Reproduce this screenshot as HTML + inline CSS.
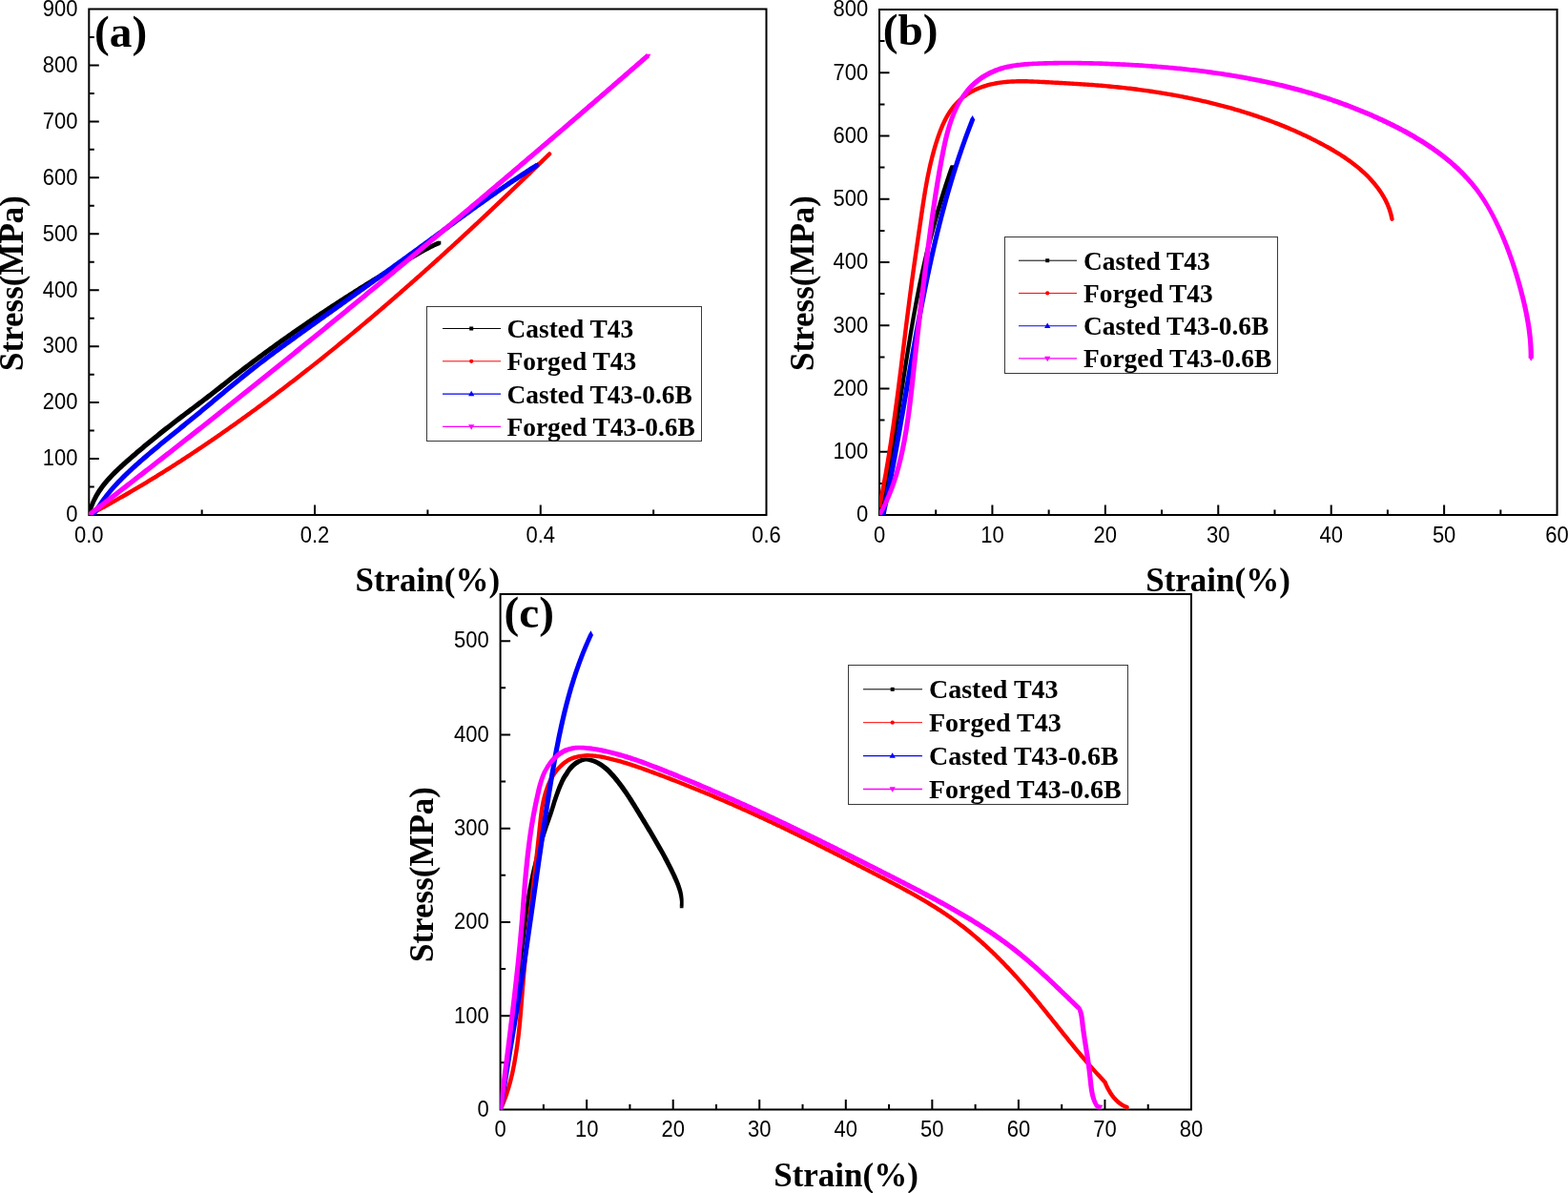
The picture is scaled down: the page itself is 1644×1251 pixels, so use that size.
<!DOCTYPE html>
<html lang="en"><head><meta charset="utf-8"><title>Stress-strain curves</title>
<style>
html,body{margin:0;padding:0;background:#fff;}
body{width:1644px;height:1251px;overflow:hidden;}
svg{display:block;}
.tk{font-family:"Liberation Sans", Arial, sans-serif;font-size:22px;fill:#000;}
.ti{font-family:"Liberation Serif", "Times New Roman", serif;font-weight:bold;font-size:35px;fill:#000;}
.pl{font-family:"Liberation Serif", "Times New Roman", serif;font-weight:bold;font-size:47.3px;fill:#000;}
.lg{font-family:"Liberation Serif", "Times New Roman", serif;font-weight:bold;fill:#000;}
.ax{stroke:#000;stroke-width:2;fill:none;stroke-linecap:butt;}
.cv{fill:none;stroke-linejoin:round;stroke-linecap:round;}
</style></head><body>
<svg width="1644" height="1251" viewBox="0 0 1644 1251">
<rect x="0" y="0" width="1644" height="1251" fill="#ffffff"/>
<g id="plot-a">
<clipPath id="clip-a"><rect x="93.3" y="9.5" width="710.2" height="530.5"/></clipPath>
<rect class="ax" x="93.3" y="9.5" width="710.2" height="530.5"/>
<path class="ax" d="M330.03 540 v-10.5 M566.77 540 v-10.5 M211.67 540 v-5.5 M448.4 540 v-5.5 M685.13 540 v-5.5 M93.3 481.06 h10.5 M93.3 422.11 h10.5 M93.3 363.17 h10.5 M93.3 304.22 h10.5 M93.3 245.28 h10.5 M93.3 186.33 h10.5 M93.3 127.39 h10.5 M93.3 68.44 h10.5 M93.3 510.53 h5.5 M93.3 451.58 h5.5 M93.3 392.64 h5.5 M93.3 333.69 h5.5 M93.3 274.75 h5.5 M93.3 215.81 h5.5 M93.3 156.86 h5.5 M93.3 97.92 h5.5 M93.3 38.97 h5.5"/>
<g clip-path="url(#clip-a)">
<path d="M93.3 540.01L94.9 533.96L96.97 528.23L99.47 522.78L102.36 517.6L105.59 512.65L109.13 507.91L112.93 503.36L116.96 498.97L121.17 494.71L125.52 490.57L129.98 486.5L134.5 482.5L139.05 478.53L143.62 474.59L148.22 470.69L152.84 466.82L157.48 462.99L162.14 459.18L166.83 455.4L171.53 451.65L176.26 447.92L181.01 444.23L185.78 440.56L190.57 436.91L195.38 433.28L200.19 429.66L204.99 426.05L209.79 422.43L214.56 418.81L219.3 415.17L224.01 411.51L228.68 407.84L233.35 404.15L238.01 400.47L242.68 396.8L247.37 393.14L252.09 389.5L256.82 385.87L261.58 382.26L266.35 378.67L271.14 375.1L275.95 371.54L280.78 367.99L285.63 364.47L290.5 360.96L295.38 357.47L300.28 353.99L305.19 350.53L310.12 347.09L315.07 343.66L320.03 340.25L325 336.86L329.99 333.48L335 330.12L340.01 326.78L345.04 323.45L350.08 320.14L355.14 316.85L360.2 313.57L365.28 310.31L370.36 307.07L375.46 303.84L380.57 300.63L385.68 297.44L390.81 294.27L395.94 291.11L401.09 287.97L406.24 284.84L411.39 281.73L416.56 278.64L421.73 275.57L426.91 272.51L432.09 269.47L437.28 266.45L442.51 263.51L447.79 260.66L453.15 257.97L458.62 255.47L460.47 254.68" fill="none" stroke="#000000" stroke-width="2.4" stroke-linejoin="round"/>
<path d="M95.47 540.51L95.96 538.5L96.51 536.56L97.12 534.65L97.77 532.78L98.47 530.95L99.21 529.14L99.99 527.37L100.82 525.62L101.69 523.91L102.6 522.22L103.55 520.55L104.53 518.91L105.55 517.3L106.61 515.7L107.7 514.13L108.82 512.58L109.98 511.04L111.16 509.53L112.38 508.03L113.62 506.55L114.89 505.08L116.19 503.63L117.51 502.2L118.85 500.78L120.21 499.37L121.6 497.97L123 496.58L124.42 495.21L125.86 493.84L127.31 492.48L128.77 491.13L130.24 489.79L131.73 488.45L133.22 487.11L134.72 485.78L136.22 484.46L137.73 483.14L139.24 481.82L140.76 480.5L142.28 479.19L143.79 477.88L145.32 476.58L146.84 475.28L148.37 473.98L149.9 472.69L151.43 471.4L152.97 470.11L154.5 468.83L156.04 467.55L157.59 466.27L159.13 465L160.68 463.73L162.23 462.46L163.78 461.2L165.34 459.94L166.89 458.68L168.45 457.43L170.02 456.18L171.58 454.93L173.15 453.69L174.72 452.44L176.29 451.21L177.86 449.97L179.44 448.74L181.02 447.51L182.6 446.28L184.18 445.06L185.77 443.83L187.36 442.62L188.95 441.4L190.54 440.19L192.14 438.97L193.74 437.76L195.34 436.56L196.94 435.35L198.54 434.14L200.14 432.94L201.74 431.73L203.35 430.53L204.95 429.32L206.55 428.12L208.15 426.91L209.75 425.71L211.35 424.5L212.94 423.29L214.54 422.08L216.13 420.87L217.72 419.66L219.3 418.44L220.89 417.23L222.46 416.01L224.04 414.78L225.61 413.56L227.17 412.33L228.73 411.1L230.29 409.88L231.85 408.65L233.41 407.42L234.96 406.19L236.51 404.96L238.07 403.74L239.62 402.51L241.17 401.28L242.73 400.06L244.28 398.84L245.84 397.62L247.4 396.4L248.97 395.19L250.53 393.98L252.1 392.76L253.67 391.55L255.24 390.34L256.82 389.14L258.39 387.93L259.97 386.73L261.55 385.53L263.14 384.33L264.72 383.13L266.31 381.94L267.9 380.74L269.49 379.55L271.09 378.36L272.69 377.17L274.28 375.99L275.88 374.8L277.49 373.62L279.09 372.44L280.7 371.26L282.31 370.08L283.92 368.91L285.53 367.73L287.15 366.56L288.76 365.39L290.38 364.22L292 363.06L293.62 361.89L295.25 360.73L296.87 359.57L298.5 358.41L300.13 357.25L301.76 356.1L303.4 354.94L305.03 353.79L306.67 352.64L308.31 351.49L309.95 350.35L311.59 349.2L313.24 348.06L314.88 346.92L316.53 345.78L318.18 344.64L319.83 343.51L321.48 342.37L323.13 341.24L324.79 340.11L326.45 338.98L328.11 337.86L329.77 336.73L331.43 335.61L333.09 334.49L334.76 333.37L336.42 332.25L338.09 331.14L339.76 330.03L341.43 328.91L343.1 327.81L344.78 326.7L346.45 325.59L348.13 324.49L349.81 323.39L351.48 322.28L353.16 321.19L354.85 320.09L356.53 318.99L358.21 317.9L359.9 316.81L361.59 315.72L363.27 314.63L364.96 313.55L366.65 312.46L368.35 311.38L370.04 310.3L371.73 309.23L373.43 308.15L375.13 307.07L376.82 306L378.52 304.93L380.22 303.86L381.92 302.8L383.62 301.73L385.33 300.67L387.03 299.61L388.74 298.55L390.44 297.49L392.15 296.43L393.86 295.38L395.56 294.33L397.27 293.28L398.98 292.23L400.7 291.18L402.41 290.14L404.12 289.09L405.84 288.05L407.55 287.01L409.27 285.98L410.98 284.94L412.7 283.91L414.42 282.88L416.14 281.85L417.86 280.82L419.58 279.79L421.3 278.77L423.02 277.75L424.74 276.73L426.47 275.71L428.19 274.69L429.92 273.68L431.64 272.66L433.37 271.65L435.09 270.64L436.81 269.64L438.54 268.64L440.26 267.66L441.99 266.68L443.72 265.71L445.46 264.75L447.2 263.81L448.94 262.88L450.7 261.97L452.46 261.07L454.22 260.2L456 259.34L457.79 258.51L459.59 257.7L461.42 256.92L459.52 252.45L457.66 253.24L455.78 254.05L453.93 254.89L452.08 255.75L450.26 256.63L448.44 257.53L446.64 258.45L444.85 259.39L443.06 260.34L441.29 261.31L439.53 262.28L437.77 263.27L436.03 264.26L434.28 265.27L432.54 266.27L430.81 267.28L429.08 268.3L427.35 269.31L425.62 270.33L423.89 271.34L422.16 272.36L420.44 273.39L418.71 274.41L416.98 275.43L415.26 276.46L413.53 277.49L411.81 278.52L410.09 279.56L408.36 280.59L406.64 281.63L404.92 282.67L403.2 283.71L401.48 284.75L399.76 285.79L398.05 286.84L396.33 287.89L394.61 288.94L392.9 289.99L391.19 291.04L389.47 292.1L387.76 293.16L386.05 294.22L384.34 295.28L382.63 296.34L380.92 297.41L379.22 298.47L377.51 299.54L375.8 300.61L374.1 301.69L372.4 302.76L370.7 303.84L369 304.91L367.3 305.99L365.6 307.08L363.9 308.16L362.2 309.25L360.51 310.33L358.82 311.42L357.12 312.51L355.43 313.61L353.74 314.7L352.05 315.8L350.37 316.9L348.68 318L347 319.1L345.31 320.21L343.63 321.31L341.95 322.42L340.27 323.53L338.59 324.64L336.92 325.76L335.24 326.87L333.57 327.99L331.9 329.11L330.23 330.23L328.56 331.35L326.89 332.48L325.22 333.6L323.56 334.73L321.9 335.86L320.24 336.99L318.58 338.13L316.92 339.27L315.26 340.4L313.61 341.54L311.95 342.68L310.3 343.83L308.65 344.97L307 346.12L305.36 347.27L303.71 348.42L302.07 349.57L300.43 350.73L298.79 351.88L297.15 353.04L295.51 354.2L293.88 355.37L292.25 356.53L290.62 357.69L288.99 358.86L287.36 360.03L285.74 361.2L284.12 362.38L282.49 363.55L280.88 364.73L279.26 365.91L277.64 367.09L276.03 368.27L274.42 369.45L272.81 370.64L271.2 371.83L269.6 373.02L268 374.21L266.4 375.4L264.8 376.6L263.2 377.8L261.61 379L260.01 380.2L258.42 381.4L256.84 382.6L255.25 383.81L253.67 385.02L252.09 386.23L250.51 387.44L248.93 388.65L247.36 389.87L245.78 391.09L244.21 392.31L242.65 393.53L241.08 394.75L239.52 395.98L237.96 397.2L236.4 398.43L234.84 399.66L233.29 400.89L231.74 402.11L230.18 403.34L228.63 404.57L227.08 405.8L225.52 407.02L223.96 408.25L222.41 409.47L220.85 410.69L219.28 411.9L217.71 413.12L216.14 414.33L214.56 415.54L212.98 416.75L211.4 417.96L209.81 419.16L208.22 420.37L206.63 421.57L205.03 422.78L203.43 423.98L201.83 425.18L200.23 426.39L198.63 427.59L197.03 428.8L195.42 430L193.82 431.21L192.22 432.42L190.61 433.63L189.01 434.84L187.41 436.06L185.81 437.28L184.21 438.5L182.61 439.72L181.02 440.95L179.42 442.18L177.83 443.41L176.25 444.64L174.66 445.88L173.08 447.12L171.5 448.36L169.92 449.61L168.34 450.86L166.77 452.11L165.2 453.37L163.63 454.63L162.06 455.89L160.5 457.16L158.94 458.43L157.38 459.7L155.82 460.97L154.27 462.25L152.72 463.54L151.17 464.82L149.62 466.11L148.08 467.4L146.54 468.7L145 470L143.46 471.3L141.93 472.61L140.4 473.92L138.87 475.24L137.34 476.56L135.82 477.88L134.3 479.2L132.78 480.53L131.26 481.87L129.75 483.21L128.24 484.56L126.73 485.91L125.23 487.28L123.74 488.65L122.26 490.04L120.8 491.43L119.34 492.84L117.9 494.27L116.47 495.71L115.07 497.16L113.68 498.64L112.31 500.13L110.97 501.64L109.65 503.17L108.36 504.72L107.09 506.3L105.86 507.9L104.65 509.52L103.48 511.17L102.34 512.85L101.24 514.55L100.18 516.28L99.16 518.04L98.19 519.83L97.26 521.65L96.37 523.51L95.53 525.39L94.74 527.31L94 529.26L93.32 531.25L92.69 533.27L92.12 535.32L91.61 537.41L91.14 539.5ZM91.45 541.86L95.15 541.86L95.15 538.16L91.45 538.16ZM458.62 256.53L462.32 256.53L462.32 252.83L458.62 252.83Z" fill="#000000" fill-rule="nonzero"/>
<path d="M93.29 539.98L95.05 539.04L96.82 538.11L98.58 537.17L100.35 536.22L102.11 535.28L103.87 534.33L105.62 533.37L107.38 532.42L109.13 531.46L110.88 530.5L112.63 529.53L114.38 528.56L116.13 527.59L117.87 526.62L119.62 525.64L121.36 524.67L123.1 523.68L124.83 522.7L126.57 521.71L128.3 520.72L130.04 519.73L131.77 518.73L133.49 517.73L135.22 516.73L136.95 515.72L138.67 514.72L140.39 513.71L142.11 512.69L143.83 511.68L145.55 510.66L147.26 509.64L148.98 508.61L150.69 507.59L152.4 506.56L154.11 505.53L155.82 504.49L157.52 503.46L159.23 502.42L160.93 501.37L162.63 500.33L164.33 499.28L166.02 498.23L167.72 497.18L169.41 496.13L171.11 495.07L172.8 494.01L174.49 492.95L176.18 491.88L177.86 490.81L179.55 489.74L181.23 488.67L182.91 487.6L184.59 486.52L186.27 485.44L187.95 484.36L189.63 483.28L191.3 482.19L192.97 481.1L194.64 480.01L196.31 478.92L197.98 477.82L199.65 476.72L201.32 475.62L202.98 474.52L204.64 473.42L206.3 472.31L207.96 471.2L209.62 470.09L211.28 468.97L212.93 467.86L214.59 466.74L216.24 465.62L217.89 464.5L219.54 463.37L221.19 462.25L222.84 461.12L224.48 459.99L226.13 458.86L227.77 457.72L229.41 456.59L231.05 455.45L232.69 454.31L234.33 453.16L235.97 452.02L237.6 450.87L239.24 449.72L240.87 448.57L242.5 447.42L244.13 446.27L245.76 445.11L247.39 443.95L249.01 442.79L250.64 441.63L252.26 440.47L253.88 439.3L255.5 438.13L257.12 436.96L258.74 435.79L260.36 434.62L261.98 433.45L263.59 432.27L265.2 431.09L266.82 429.91L268.43 428.73L270.04 427.55L271.65 426.36L273.26 425.18L274.86 423.99L276.47 422.8L278.07 421.61L279.68 420.41L281.28 419.22L282.88 418.02L284.48 416.82L286.08 415.62L287.67 414.42L289.27 413.22L290.87 412.02L292.46 410.81L294.05 409.6L295.64 408.39L297.24 407.18L298.82 405.97L300.41 404.75L302 403.54L303.59 402.32L305.17 401.1L306.76 399.88L308.34 398.66L309.92 397.44L311.5 396.21L313.08 394.98L314.66 393.76L316.24 392.53L317.81 391.3L319.39 390.06L320.96 388.83L322.53 387.59L324.1 386.36L325.68 385.12L327.24 383.88L328.81 382.64L330.38 381.39L331.95 380.15L333.51 378.9L335.08 377.66L336.64 376.41L338.2 375.16L339.76 373.91L341.32 372.65L342.88 371.4L344.44 370.15L345.99 368.89L347.55 367.63L349.1 366.37L350.66 365.11L352.21 363.85L353.76 362.58L355.31 361.32L356.86 360.05L358.41 358.78L359.96 357.51L361.5 356.24L363.05 354.97L364.59 353.7L366.14 352.42L367.68 351.15L369.22 349.87L370.76 348.59L372.3 347.31L373.84 346.03L375.37 344.75L376.91 343.47L378.44 342.18L379.98 340.9L381.51 339.61L383.04 338.32L384.57 337.03L386.1 335.74L387.63 334.45L389.16 333.16L390.69 331.86L392.21 330.57L393.74 329.27L395.26 327.97L396.79 326.68L398.31 325.38L399.83 324.07L401.35 322.77L402.87 321.47L404.39 320.16L405.91 318.86L407.42 317.55L408.94 316.24L410.45 314.93L411.97 313.62L413.48 312.31L414.99 311L416.5 309.69L418.01 308.37L419.52 307.05L421.03 305.74L422.53 304.42L424.04 303.1L425.55 301.78L427.05 300.46L428.55 299.14L430.06 297.82L431.56 296.49L433.06 295.17L434.56 293.84L436.06 292.51L437.55 291.19L439.05 289.86L440.55 288.53L442.04 287.19L443.54 285.86L445.03 284.53L446.52 283.2L448.01 281.86L449.5 280.53L450.99 279.19L452.48 277.85L453.97 276.51L455.46 275.17L456.94 273.83L458.43 272.49L459.91 271.15L461.4 269.81L462.88 268.46L464.36 267.12L465.84 265.77L467.32 264.43L468.8 263.08L470.28 261.73L471.76 260.38L473.24 259.03L474.71 257.68L476.19 256.33L477.66 254.98L479.13 253.62L480.61 252.27L482.08 250.91L483.55 249.56L485.02 248.2L486.49 246.84L487.96 245.49L489.43 244.13L490.89 242.77L492.36 241.41L493.82 240.05L495.29 238.68L496.75 237.32L498.22 235.96L499.68 234.6L501.14 233.23L502.6 231.87L504.06 230.5L505.52 229.13L506.98 227.77L508.43 226.4L509.89 225.03L511.35 223.66L512.8 222.29L514.25 220.92L515.71 219.55L517.16 218.17L518.61 216.8L520.06 215.43L521.51 214.05L522.96 212.68L524.41 211.3L525.86 209.93L527.31 208.55L528.75 207.18L530.2 205.8L531.65 204.42L533.09 203.04L534.53 201.66L535.98 200.28L537.42 198.9L538.86 197.52L540.3 196.14L541.74 194.76L543.18 193.37L544.62 191.99L546.06 190.61L547.49 189.22L548.93 187.84L550.37 186.45L551.8 185.07L553.23 183.68L554.67 182.3L556.1 180.91L557.53 179.52L558.96 178.13L560.4 176.75L561.83 175.36L563.25 173.97L564.68 172.58L566.11 171.19L567.54 169.8L568.97 168.41L570.39 167.02L571.82 165.62L573.24 164.23L574.67 162.84L576.09 161.45" fill="none" stroke="#ff0000" stroke-width="4.4" stroke-linecap="round" stroke-linejoin="round"/>
<path d="M97.97 539.98L101.08 534.76L104.37 529.71L107.84 524.81L111.48 520.05L115.26 515.42L119.17 510.91L123.21 506.52L127.36 502.22L131.61 498.01L135.95 493.88L140.35 489.82L144.82 485.82L149.34 481.86L153.89 477.94L158.48 474.06L163.09 470.2L167.72 466.36L172.38 462.55L177.05 458.74L181.72 454.95L186.4 451.16L191.09 447.38L195.77 443.59L200.44 439.79L205.1 435.98L209.74 432.16L214.37 428.32L218.99 424.47L223.61 420.62L228.22 416.77L232.83 412.92L237.44 409.08L242.07 405.25L246.7 401.44L251.35 397.64L256.01 393.87L260.7 390.12L265.41 386.4L270.15 382.72L274.91 379.06L279.7 375.43L284.5 371.83L289.32 368.25L294.16 364.69L299.01 361.14L303.87 357.61L308.74 354.09L313.62 350.58L318.51 347.07L323.39 343.57L328.28 340.07L333.16 336.58L338.05 333.08L342.94 329.58L347.83 326.09L352.72 322.59L357.61 319.1L362.49 315.6L367.38 312.11L372.27 308.61L377.15 305.11L382.04 301.61L386.92 298.11L391.8 294.61L396.68 291.1L401.56 287.6L406.44 284.09L411.31 280.57L416.18 277.05L421.05 273.53L425.92 270.01L430.78 266.48L435.64 262.94L440.49 259.41L445.35 255.86L450.19 252.31L455.04 248.76L459.89 245.21L464.73 241.65L469.58 238.1L474.43 234.55L479.28 231.01L484.14 227.47L489 223.94L493.87 220.42L498.74 216.91L503.63 213.41L508.52 209.93L513.43 206.46L518.35 203.01L523.28 199.58L528.23 196.17L533.19 192.79L538.17 189.42L543.17 186.09L548.18 182.78L553.22 179.5L558.28 176.25L563.36 173.03L563.36 173.03" fill="none" stroke="#0000ff" stroke-width="2.4" stroke-linejoin="round"/>
<path d="M99.93 541.12L100.95 539.38L101.99 537.67L103.04 535.99L104.12 534.32L105.21 532.67L106.33 531.04L107.46 529.42L108.61 527.82L109.78 526.23L110.97 524.66L112.17 523.1L113.39 521.56L114.63 520.03L115.88 518.51L117.14 517.01L118.42 515.52L119.72 514.04L121.03 512.57L122.35 511.12L123.69 509.67L125.04 508.24L126.4 506.82L127.78 505.4L129.16 504L130.56 502.6L131.97 501.22L133.38 499.84L134.81 498.47L136.25 497.11L137.69 495.75L139.15 494.4L140.61 493.06L142.08 491.72L143.55 490.39L145.04 489.07L146.53 487.75L148.02 486.43L149.52 485.12L151.03 483.81L152.54 482.51L154.05 481.2L155.57 479.91L157.09 478.61L158.61 477.32L160.14 476.03L161.67 474.75L163.21 473.47L164.74 472.19L166.28 470.91L167.83 469.63L169.37 468.36L170.92 467.09L172.47 465.82L174.02 464.55L175.57 463.28L177.12 462.02L178.68 460.75L180.24 459.49L181.79 458.23L183.35 456.96L184.91 455.7L186.47 454.44L188.03 453.18L189.6 451.92L191.16 450.65L192.72 449.39L194.28 448.13L195.84 446.87L197.4 445.6L198.96 444.33L200.52 443.07L202.08 441.8L203.63 440.53L205.19 439.26L206.74 437.98L208.29 436.71L209.84 435.43L211.39 434.15L212.94 432.87L214.48 431.59L216.02 430.31L217.57 429.03L219.11 427.74L220.65 426.46L222.19 425.18L223.73 423.89L225.26 422.61L226.8 421.32L228.34 420.04L229.87 418.76L231.41 417.47L232.95 416.19L234.48 414.91L236.02 413.63L237.56 412.35L239.1 411.07L240.64 409.8L242.18 408.52L243.72 407.25L245.26 405.98L246.8 404.71L248.34 403.44L249.89 402.17L251.44 400.91L252.98 399.65L254.53 398.39L256.09 397.14L257.64 395.89L259.2 394.64L260.76 393.39L262.32 392.15L263.88 390.91L265.45 389.68L267.02 388.45L268.59 387.22L270.16 386L271.74 384.77L273.32 383.56L274.91 382.34L276.49 381.13L278.08 379.92L279.67 378.72L281.27 377.51L282.86 376.31L284.46 375.11L286.06 373.92L287.66 372.73L289.27 371.53L290.87 370.35L292.48 369.16L294.09 367.97L295.7 366.79L297.32 365.61L298.93 364.43L300.55 363.25L302.17 362.07L303.78 360.9L305.41 359.72L307.03 358.55L308.65 357.38L310.27 356.21L311.9 355.04L313.52 353.87L315.15 352.7L316.77 351.53L318.4 350.36L320.03 349.2L321.66 348.03L323.28 346.86L324.91 345.7L326.54 344.53L328.17 343.36L329.8 342.2L331.43 341.03L333.06 339.87L334.68 338.7L336.31 337.54L337.94 336.37L339.57 335.2L341.2 334.04L342.83 332.87L344.46 331.71L346.09 330.54L347.72 329.38L349.35 328.21L350.98 327.05L352.61 325.88L354.24 324.72L355.87 323.55L357.5 322.39L359.13 321.22L360.75 320.06L362.38 318.89L364.01 317.73L365.64 316.56L367.27 315.4L368.9 314.23L370.53 313.07L372.16 311.9L373.79 310.74L375.42 309.57L377.05 308.4L378.67 307.24L380.3 306.07L381.93 304.9L383.56 303.74L385.19 302.57L386.82 301.4L388.44 300.24L390.07 299.07L391.7 297.9L393.33 296.73L394.95 295.56L396.58 294.39L398.21 293.23L399.83 292.06L401.46 290.89L403.09 289.72L404.71 288.55L406.34 287.38L407.96 286.21L409.59 285.03L411.21 283.86L412.84 282.69L414.46 281.52L416.09 280.34L417.71 279.17L419.33 278L420.96 276.82L422.58 275.65L424.2 274.47L425.83 273.3L427.45 272.12L429.07 270.95L430.69 269.77L432.31 268.59L433.93 267.41L435.55 266.23L437.17 265.06L438.79 263.88L440.41 262.7L442.03 261.51L443.65 260.33L445.27 259.15L446.89 257.97L448.5 256.79L450.12 255.6L451.74 254.42L453.35 253.23L454.97 252.05L456.58 250.86L458.2 249.68L459.81 248.5L461.43 247.31L463.05 246.13L464.66 244.94L466.28 243.76L467.89 242.57L469.51 241.39L471.12 240.2L472.74 239.02L474.35 237.84L475.97 236.66L477.58 235.48L479.2 234.29L480.82 233.11L482.44 231.93L484.05 230.76L485.67 229.58L487.29 228.4L488.91 227.23L490.53 226.05L492.15 224.88L493.77 223.71L495.39 222.53L497.02 221.36L498.64 220.2L500.27 219.03L501.89 217.86L503.52 216.7L505.15 215.54L506.78 214.38L508.41 213.22L510.04 212.06L511.67 210.9L513.3 209.75L514.94 208.6L516.57 207.45L518.21 206.3L519.85 205.16L521.49 204.01L523.13 202.87L524.77 201.73L526.42 200.6L528.06 199.46L529.71 198.33L531.36 197.2L533.01 196.08L534.66 194.95L536.32 193.83L537.97 192.71L539.63 191.6L541.29 190.49L542.95 189.38L544.62 188.27L546.28 187.17L547.95 186.07L549.62 184.97L551.29 183.88L552.97 182.79L554.64 181.7L556.32 180.61L558.01 179.53L559.69 178.46L561.38 177.38L563.06 176.31L564.76 175.25L561.96 170.81L560.26 171.88L558.56 172.96L556.87 174.04L555.17 175.12L553.48 176.21L551.8 177.3L550.11 178.39L548.43 179.49L546.75 180.59L545.07 181.69L543.39 182.8L541.72 183.9L540.05 185.02L538.38 186.13L536.71 187.25L535.05 188.37L533.38 189.49L531.72 190.62L530.06 191.75L528.4 192.88L526.75 194.01L525.1 195.15L523.44 196.29L521.79 197.43L520.14 198.57L518.5 199.72L516.85 200.87L515.21 202.02L513.57 203.17L511.93 204.32L510.29 205.48L508.65 206.64L507.01 207.8L505.38 208.96L503.74 210.12L502.11 211.28L500.48 212.45L498.85 213.62L497.22 214.78L495.59 215.95L493.96 217.13L492.34 218.3L490.71 219.47L489.09 220.65L487.47 221.82L485.84 223L484.22 224.18L482.6 225.36L480.98 226.54L479.36 227.72L477.74 228.9L476.12 230.08L474.5 231.26L472.89 232.44L471.27 233.63L469.65 234.81L468.04 235.99L466.42 237.18L464.8 238.36L463.19 239.55L461.57 240.73L459.96 241.92L458.34 243.1L456.73 244.29L455.11 245.47L453.5 246.66L451.88 247.84L450.27 249.02L448.65 250.21L447.04 251.39L445.42 252.57L443.81 253.75L442.19 254.94L440.57 256.12L438.95 257.3L437.34 258.48L435.72 259.66L434.1 260.83L432.48 262.01L430.86 263.19L429.24 264.37L427.62 265.54L426 266.72L424.38 267.89L422.76 269.07L421.14 270.24L419.52 271.42L417.9 272.59L416.27 273.77L414.65 274.94L413.03 276.11L411.41 277.28L409.78 278.45L408.16 279.63L406.53 280.8L404.91 281.97L403.28 283.14L401.66 284.31L400.03 285.48L398.41 286.65L396.78 287.82L395.16 288.98L393.53 290.15L391.91 291.32L390.28 292.49L388.65 293.66L387.03 294.82L385.4 295.99L383.77 297.16L382.14 298.32L380.52 299.49L378.89 300.66L377.26 301.82L375.63 302.99L374 304.16L372.38 305.32L370.75 306.49L369.12 307.65L367.49 308.82L365.86 309.98L364.23 311.15L362.6 312.31L360.97 313.48L359.34 314.64L357.72 315.81L356.09 316.97L354.46 318.14L352.83 319.3L351.2 320.47L349.57 321.63L347.94 322.8L346.31 323.96L344.68 325.13L343.05 326.29L341.42 327.46L339.79 328.62L338.16 329.79L336.53 330.95L334.9 332.12L333.27 333.29L331.64 334.45L330.02 335.62L328.39 336.78L326.76 337.95L325.13 339.12L323.5 340.28L321.87 341.45L320.24 342.62L318.61 343.78L316.98 344.95L315.35 346.12L313.73 347.29L312.1 348.46L310.47 349.63L308.84 350.8L307.22 351.97L305.59 353.14L303.97 354.32L302.34 355.49L300.72 356.67L299.1 357.85L297.47 359.03L295.85 360.21L294.23 361.4L292.62 362.58L291 363.77L289.39 364.96L287.77 366.15L286.16 367.34L284.55 368.54L282.94 369.74L281.33 370.94L279.73 372.15L278.13 373.35L276.53 374.56L274.93 375.77L273.33 376.99L271.74 378.21L270.15 379.43L268.56 380.66L266.97 381.89L265.39 383.12L263.81 384.36L262.23 385.6L260.66 386.84L259.09 388.09L257.52 389.34L255.95 390.59L254.39 391.85L252.83 393.1L251.27 394.37L249.71 395.63L248.16 396.9L246.61 398.16L245.06 399.43L243.51 400.71L241.96 401.98L240.42 403.26L238.87 404.53L237.33 405.81L235.79 407.09L234.25 408.37L232.71 409.66L231.17 410.94L229.63 412.22L228.1 413.5L226.56 414.79L225.02 416.07L223.49 417.35L221.95 418.64L220.41 419.92L218.87 421.2L217.34 422.49L215.8 423.77L214.26 425.05L212.72 426.33L211.18 427.61L209.64 428.88L208.09 430.16L206.55 431.44L205 432.71L203.45 433.98L201.91 435.25L200.35 436.51L198.8 437.78L197.25 439.05L195.69 440.31L194.13 441.57L192.58 442.84L191.02 444.1L189.46 445.36L187.9 446.62L186.34 447.88L184.77 449.15L183.21 450.41L181.65 451.67L180.09 452.93L178.53 454.2L176.97 455.46L175.41 456.73L173.85 458L172.29 459.27L170.74 460.54L169.18 461.81L167.63 463.09L166.08 464.36L164.53 465.64L162.98 466.93L161.43 468.21L159.89 469.5L158.35 470.79L156.81 472.08L155.28 473.38L153.74 474.68L152.22 475.98L150.69 477.29L149.17 478.6L147.65 479.92L146.13 481.24L144.62 482.56L143.12 483.89L141.62 485.23L140.12 486.57L138.63 487.92L137.15 489.28L135.67 490.64L134.2 492.02L132.74 493.4L131.28 494.79L129.84 496.19L128.4 497.59L126.98 499.01L125.56 500.44L124.16 501.88L122.76 503.33L121.38 504.79L120.01 506.26L118.66 507.75L117.31 509.25L115.98 510.76L114.67 512.29L113.37 513.83L112.08 515.38L110.81 516.95L109.56 518.53L108.33 520.13L107.11 521.75L105.91 523.38L104.73 525.03L103.56 526.69L102.42 528.38L101.3 530.08L100.19 531.8L99.11 533.54L98.05 535.29L97.01 537.07L96 538.84ZM94.68 541.12L99.93 541.12L97.31 536.57ZM560.7 174.49L565.95 174.49L563.33 169.95Z" fill="#0000ff" fill-rule="nonzero"/>
<path d="M93.26 539.95L98.02 536.29L102.79 532.63L107.55 528.97L112.32 525.3L117.08 521.63L121.83 517.96L126.59 514.29L131.34 510.61L136.09 506.93L140.84 503.25L145.59 499.56L150.33 495.87L155.07 492.18L159.81 488.49L164.55 484.79L169.28 481.09L174.02 477.39L178.75 473.69L183.48 469.98L188.2 466.27L192.93 462.56L197.65 458.84L202.37 455.12L207.09 451.4L211.81 447.68L216.52 443.95L221.23 440.23L225.94 436.49L230.65 432.76L235.35 429.02L240.06 425.28L244.76 421.54L249.46 417.8L254.15 414.05L258.85 410.3L263.54 406.55L268.23 402.79L272.92 399.04L277.61 395.28L282.29 391.51L286.98 387.75L291.66 383.98L296.34 380.21L301.01 376.44L305.69 372.66L310.36 368.89L315.03 365.1L319.7 361.32L324.36 357.54L329.03 353.75L333.69 349.96L338.35 346.17L343.01 342.37L347.67 338.57L352.32 334.77L356.97 330.97L361.62 327.17L366.27 323.36L370.92 319.55L375.56 315.74L380.2 311.92L384.84 308.11L389.48 304.29L394.12 300.46L398.75 296.64L403.39 292.81L408.02 288.99L412.65 285.15L417.27 281.32L421.9 277.49L426.52 273.65L431.14 269.81L435.76 265.96L440.38 262.12L445 258.27L449.61 254.42L454.22 250.57L458.83 246.72L463.44 242.86L468.05 239L472.65 235.14L477.25 231.28L481.85 227.41L486.45 223.55L491.05 219.68L495.64 215.81L500.24 211.93L504.83 208.06L509.42 204.18L514.01 200.3L518.6 196.42L523.18 192.53L527.76 188.65L532.34 184.76L536.92 180.87L541.5 176.98L546.08 173.08L550.65 169.19L555.23 165.29L559.8 161.39L564.37 157.49L568.93 153.58L573.5 149.68L578.06 145.77L582.63 141.86L587.19 137.95L591.75 134.03L596.31 130.12L600.86 126.2L605.42 122.28L609.97 118.36L614.52 114.44L619.07 110.51L623.62 106.58L628.17 102.65L632.71 98.72L637.26 94.79L641.8 90.86L646.34 86.92L650.88 82.98L655.41 79.04L659.95 75.1L664.48 71.16L669.02 67.22L673.55 63.27L678.08 59.32L679.59 58" fill="none" stroke="#ff00ff" stroke-width="2.4" stroke-linejoin="round"/>
<path d="M94.84 542.01L96.43 540.8L98.02 539.58L99.61 538.36L101.2 537.14L102.79 535.92L104.38 534.7L105.96 533.47L107.55 532.25L109.14 531.03L110.73 529.81L112.32 528.59L113.9 527.36L115.49 526.14L117.08 524.92L118.66 523.69L120.25 522.47L121.84 521.25L123.42 520.02L125.01 518.8L126.59 517.57L128.18 516.35L129.76 515.12L131.35 513.89L132.93 512.67L134.52 511.44L136.1 510.21L137.68 508.99L139.27 507.76L140.85 506.53L142.43 505.3L144.02 504.07L145.6 502.85L147.18 501.62L148.76 500.39L150.34 499.16L151.93 497.93L153.51 496.7L155.09 495.47L156.67 494.24L158.25 493L159.83 491.77L161.41 490.54L162.99 489.31L164.57 488.08L166.15 486.84L167.73 485.61L169.31 484.38L170.88 483.14L172.46 481.91L174.04 480.67L175.62 479.44L177.2 478.2L178.77 476.97L180.35 475.73L181.93 474.5L183.5 473.26L185.08 472.03L186.66 470.79L188.23 469.55L189.81 468.31L191.38 467.08L192.96 465.84L194.53 464.6L196.11 463.36L197.68 462.12L199.26 460.88L200.83 459.64L202.41 458.4L203.98 457.16L205.55 455.92L207.13 454.68L208.7 453.44L210.27 452.2L211.84 450.96L213.42 449.72L214.99 448.48L216.56 447.23L218.13 445.99L219.7 444.75L221.27 443.51L222.84 442.26L224.41 441.02L225.98 439.77L227.55 438.53L229.12 437.28L230.69 436.04L232.26 434.79L233.83 433.55L235.4 432.3L236.97 431.06L238.54 429.81L240.11 428.56L241.67 427.32L243.24 426.07L244.81 424.82L246.38 423.57L247.94 422.32L249.51 421.08L251.08 419.83L252.64 418.58L254.21 417.33L255.77 416.08L257.34 414.83L258.9 413.58L260.47 412.33L262.03 411.08L263.6 409.83L265.16 408.57L266.73 407.32L268.29 406.07L269.86 404.82L271.42 403.57L272.98 402.31L274.55 401.06L276.11 399.81L277.67 398.55L279.23 397.3L280.8 396.05L282.36 394.79L283.92 393.54L285.48 392.28L287.04 391.03L288.6 389.77L290.16 388.51L291.72 387.26L293.28 386L294.84 384.74L296.4 383.49L297.96 382.23L299.52 380.97L301.08 379.71L302.64 378.46L304.2 377.2L305.76 375.94L307.32 374.68L308.87 373.42L310.43 372.16L311.99 370.9L313.55 369.64L315.1 368.38L316.66 367.12L318.22 365.86L319.77 364.6L321.33 363.34L322.89 362.07L324.44 360.81L326 359.55L327.55 358.29L329.11 357.02L330.66 355.76L332.22 354.5L333.77 353.23L335.33 351.97L336.88 350.71L338.43 349.44L339.99 348.18L341.54 346.91L343.09 345.65L344.65 344.38L346.2 343.11L347.75 341.85L349.3 340.58L350.86 339.31L352.41 338.05L353.96 336.78L355.51 335.51L357.06 334.24L358.61 332.98L360.16 331.71L361.71 330.44L363.26 329.17L364.81 327.9L366.36 326.63L367.91 325.36L369.46 324.09L371.01 322.82L372.56 321.55L374.11 320.28L375.66 319.01L377.21 317.74L378.75 316.47L380.3 315.2L381.85 313.92L383.4 312.65L384.94 311.38L386.49 310.11L388.04 308.83L389.58 307.56L391.13 306.28L392.68 305.01L394.22 303.74L395.77 302.46L397.31 301.19L398.86 299.91L400.4 298.64L401.95 297.36L403.49 296.09L405.04 294.81L406.58 293.53L408.12 292.26L409.67 290.98L411.21 289.7L412.75 288.43L414.3 287.15L415.84 285.87L417.38 284.59L418.92 283.31L420.47 282.03L422.01 280.76L423.55 279.48L425.09 278.2L426.63 276.92L428.17 275.64L429.72 274.36L431.26 273.08L432.8 271.8L434.34 270.52L435.88 269.23L437.42 267.95L438.96 266.67L440.5 265.39L442.04 264.11L443.57 262.82L445.11 261.54L446.65 260.26L448.19 258.98L449.73 257.69L451.27 256.41L452.8 255.12L454.34 253.84L455.88 252.56L457.42 251.27L458.95 249.99L460.49 248.7L462.03 247.42L463.56 246.13L465.1 244.84L466.63 243.56L468.17 242.27L469.71 240.98L471.24 239.7L472.78 238.41L474.31 237.12L475.85 235.84L477.38 234.55L478.91 233.26L480.45 231.97L481.98 230.68L483.52 229.39L485.05 228.1L486.58 226.81L488.12 225.53L489.65 224.24L491.18 222.95L492.71 221.66L494.25 220.36L495.78 219.07L497.31 217.78L498.84 216.49L500.37 215.2L501.9 213.91L503.44 212.62L504.97 211.32L506.5 210.03L508.03 208.74L509.56 207.45L511.09 206.15L512.62 204.86L514.15 203.57L515.68 202.27L517.21 200.98L518.74 199.68L520.26 198.39L521.79 197.1L523.32 195.8L524.85 194.5L526.38 193.21L527.91 191.91L529.43 190.62L530.96 189.32L532.49 188.03L534.02 186.73L535.54 185.43L537.07 184.14L538.6 182.84L540.12 181.54L541.65 180.24L543.18 178.94L544.7 177.65L546.23 176.35L547.75 175.05L549.28 173.75L550.8 172.45L552.33 171.15L553.85 169.85L555.38 168.55L556.9 167.25L558.43 165.95L559.95 164.65L561.47 163.35L563 162.05L564.52 160.75L566.04 159.45L567.57 158.15L569.09 156.85L570.61 155.54L572.13 154.24L573.66 152.94L575.18 151.64L576.7 150.33L578.22 149.03L579.74 147.73L581.26 146.43L582.79 145.12L584.31 143.82L585.83 142.51L587.35 141.21L588.87 139.9L590.39 138.6L591.91 137.3L593.43 135.99L594.95 134.68L596.47 133.38L597.99 132.07L599.51 130.77L601.03 129.46L602.54 128.16L604.06 126.85L605.58 125.54L607.1 124.23L608.62 122.93L610.14 121.62L611.65 120.31L613.17 119L614.69 117.7L616.21 116.39L617.72 115.08L619.24 113.77L620.76 112.46L622.27 111.15L623.79 109.84L625.31 108.53L626.82 107.23L628.34 105.92L629.85 104.61L631.37 103.3L632.88 101.98L634.4 100.67L635.91 99.36L637.43 98.05L638.94 96.74L640.46 95.43L641.97 94.12L643.49 92.81L645 91.49L646.51 90.18L648.03 88.87L649.54 87.56L651.05 86.24L652.57 84.93L654.08 83.62L655.59 82.3L657.1 80.99L658.62 79.68L660.13 78.36L661.64 77.05L663.15 75.73L664.66 74.42L666.18 73.1L667.69 71.79L669.2 70.47L670.71 69.16L672.22 67.84L673.73 66.53L675.24 65.21L676.75 63.9L678.26 62.58L679.77 61.26L681.28 59.95L677.89 56.06L676.38 57.38L674.88 58.7L673.37 60.01L671.86 61.33L670.35 62.64L668.84 63.96L667.33 65.27L665.81 66.59L664.3 67.9L662.79 69.22L661.28 70.53L659.77 71.84L658.26 73.16L656.75 74.47L655.24 75.79L653.72 77.1L652.21 78.41L650.7 79.73L649.19 81.04L647.67 82.35L646.16 83.66L644.65 84.97L643.14 86.29L641.62 87.6L640.11 88.91L638.6 90.22L637.08 91.53L635.57 92.84L634.05 94.15L632.54 95.46L631.02 96.77L629.51 98.08L628 99.39L626.48 100.7L624.97 102.01L623.45 103.32L621.93 104.63L620.42 105.94L618.9 107.25L617.39 108.56L615.87 109.87L614.35 111.17L612.84 112.48L611.32 113.79L609.8 115.1L608.29 116.41L606.77 117.71L605.25 119.02L603.73 120.33L602.22 121.63L600.7 122.94L599.18 124.24L597.66 125.55L596.14 126.86L594.62 128.16L593.11 129.47L591.59 130.77L590.07 132.08L588.55 133.38L587.03 134.68L585.51 135.99L583.99 137.29L582.47 138.6L580.95 139.9L579.43 141.2L577.91 142.51L576.39 143.81L574.87 145.11L573.34 146.41L571.82 147.72L570.3 149.02L568.78 150.32L567.26 151.62L565.74 152.92L564.21 154.22L562.69 155.52L561.17 156.83L559.64 158.13L558.12 159.43L556.6 160.73L555.07 162.03L553.55 163.33L552.03 164.62L550.5 165.92L548.98 167.22L547.45 168.52L545.93 169.82L544.41 171.12L542.88 172.42L541.35 173.71L539.83 175.01L538.3 176.31L536.78 177.61L535.25 178.9L533.73 180.2L532.2 181.5L530.67 182.79L529.15 184.09L527.62 185.38L526.09 186.68L524.57 187.97L523.04 189.27L521.51 190.56L519.98 191.86L518.45 193.15L516.93 194.45L515.4 195.74L513.87 197.03L512.34 198.33L510.81 199.62L509.28 200.91L507.75 202.21L506.22 203.5L504.69 204.79L503.16 206.08L501.63 207.38L500.1 208.67L498.57 209.96L497.04 211.25L495.51 212.54L493.98 213.83L492.45 215.12L490.92 216.41L489.38 217.7L487.85 218.99L486.32 220.28L484.79 221.57L483.26 222.86L481.72 224.15L480.19 225.44L478.66 226.72L477.12 228.01L475.59 229.3L474.06 230.59L472.52 231.87L470.99 233.16L469.45 234.45L467.92 235.73L466.38 237.02L464.85 238.31L463.31 239.59L461.78 240.88L460.24 242.16L458.71 243.45L457.17 244.73L455.64 246.02L454.1 247.3L452.56 248.59L451.03 249.87L449.49 251.15L447.95 252.44L446.41 253.72L444.88 255L443.34 256.29L441.8 257.57L440.26 258.85L438.72 260.13L437.19 261.41L435.65 262.69L434.11 263.98L432.57 265.26L431.03 266.54L429.49 267.82L427.95 269.1L426.41 270.38L424.87 271.66L423.33 272.94L421.79 274.22L420.25 275.49L418.7 276.77L417.16 278.05L415.62 279.33L414.08 280.61L412.54 281.88L411 283.16L409.45 284.44L407.91 285.71L406.37 286.99L404.82 288.27L403.28 289.54L401.74 290.82L400.19 292.09L398.65 293.37L397.11 294.64L395.56 295.92L394.02 297.19L392.47 298.47L390.93 299.74L389.38 301.01L387.84 302.29L386.29 303.56L384.75 304.83L383.2 306.11L381.65 307.38L380.11 308.65L378.56 309.92L377.01 311.19L375.47 312.46L373.92 313.74L372.37 315.01L370.82 316.28L369.27 317.55L367.73 318.82L366.18 320.09L364.63 321.36L363.08 322.62L361.53 323.89L359.98 325.16L358.43 326.43L356.88 327.7L355.33 328.97L353.78 330.23L352.23 331.5L350.68 332.77L349.13 334.03L347.58 335.3L346.03 336.57L344.48 337.83L342.92 339.1L341.37 340.36L339.82 341.63L338.27 342.89L336.71 344.16L335.16 345.42L333.61 346.68L332.05 347.95L330.5 349.21L328.95 350.47L327.39 351.74L325.84 353L324.28 354.26L322.73 355.52L321.18 356.79L319.62 358.05L318.06 359.31L316.51 360.57L314.95 361.83L313.4 363.09L311.84 364.35L310.28 365.61L308.73 366.87L307.17 368.13L305.61 369.39L304.06 370.65L302.5 371.9L300.94 373.16L299.38 374.42L297.82 375.68L296.27 376.93L294.71 378.19L293.15 379.45L291.59 380.7L290.03 381.96L288.47 383.22L286.91 384.47L285.35 385.73L283.79 386.98L282.23 388.24L280.67 389.49L279.11 390.75L277.55 392L275.98 393.25L274.42 394.51L272.86 395.76L271.3 397.01L269.74 398.26L268.17 399.52L266.61 400.77L265.05 402.02L263.48 403.27L261.92 404.52L260.36 405.77L258.79 407.02L257.23 408.27L255.66 409.52L254.1 410.77L252.54 412.02L250.97 413.27L249.4 414.52L247.84 415.77L246.27 417.02L244.71 418.26L243.14 419.51L241.57 420.76L240.01 422.01L238.44 423.25L236.87 424.5L235.31 425.74L233.74 426.99L232.17 428.24L230.6 429.48L229.03 430.73L227.47 431.97L225.9 433.22L224.33 434.46L222.76 435.7L221.19 436.95L219.62 438.19L218.05 439.43L216.48 440.67L214.91 441.92L213.34 443.16L211.77 444.4L210.2 445.64L208.62 446.88L207.05 448.12L205.48 449.36L203.91 450.6L202.34 451.84L200.76 453.08L199.19 454.32L197.62 455.56L196.04 456.8L194.47 458.04L192.9 459.28L191.32 460.52L189.75 461.75L188.17 462.99L186.6 464.23L185.02 465.46L183.45 466.7L181.87 467.94L180.3 469.17L178.72 470.41L177.15 471.64L175.57 472.88L173.99 474.11L172.42 475.35L170.84 476.58L169.26 477.81L167.68 479.05L166.11 480.28L164.53 481.51L162.95 482.74L161.37 483.98L159.79 485.21L158.21 486.44L156.63 487.67L155.05 488.9L153.47 490.13L151.89 491.36L150.31 492.59L148.73 493.82L147.15 495.05L145.57 496.28L143.99 497.51L142.41 498.74L140.83 499.97L139.25 501.19L137.66 502.42L136.08 503.65L134.5 504.88L132.91 506.1L131.33 507.33L129.75 508.55L128.16 509.78L126.58 511.01L125 512.23L123.41 513.46L121.83 514.68L120.24 515.9L118.66 517.13L117.07 518.35L115.49 519.57L113.9 520.8L112.31 522.02L110.73 523.24L109.14 524.46L107.55 525.69L105.97 526.91L104.38 528.13L102.79 529.35L101.2 530.57L99.62 531.79L98.03 533.01L96.44 534.23L94.85 535.45L93.26 536.67L91.67 537.88ZM96 538.59L90.75 538.59L93.38 543.14ZM682.4 56.71L677.15 56.71L679.78 61.26Z" fill="#ff00ff" fill-rule="nonzero"/>
</g>
<g class="tk" text-anchor="end">
<text transform="translate(81.5 547.3) scale(1 1.05)">0</text>
<text transform="translate(81.5 488.36) scale(1 1.05)">100</text>
<text transform="translate(81.5 429.41) scale(1 1.05)">200</text>
<text transform="translate(81.5 370.47) scale(1 1.05)">300</text>
<text transform="translate(81.5 311.52) scale(1 1.05)">400</text>
<text transform="translate(81.5 252.58) scale(1 1.05)">500</text>
<text transform="translate(81.5 193.63) scale(1 1.05)">600</text>
<text transform="translate(81.5 134.69) scale(1 1.05)">700</text>
<text transform="translate(81.5 75.74) scale(1 1.05)">800</text>
<text transform="translate(81.5 16.8) scale(1 1.05)">900</text>
</g>
<g class="tk" text-anchor="middle">
<text transform="translate(93.3 568.8) scale(1 1.05)">0.0</text>
<text transform="translate(330.03 568.8) scale(1 1.05)">0.2</text>
<text transform="translate(566.77 568.8) scale(1 1.05)">0.4</text>
<text transform="translate(803.5 568.8) scale(1 1.05)">0.6</text>
</g>
<text class="ti" text-anchor="middle" transform="translate(23.8 297) rotate(-90)">Stress(MPa)</text>
<text class="ti" text-anchor="middle" x="448.3" y="619.5">Strain(%)</text>
<text class="pl" x="99.1" y="49.2">(a)</text>
<g id="legend-a">
<rect x="447.5" y="321.5" width="288" height="141" fill="#ffffff" stroke="#3a3a3a" stroke-width="1"/>
<line x1="464" y1="344.5" x2="525" y2="344.5" stroke="#000000" stroke-width="1"/>
<rect x="492.2" y="342.5" width="4" height="4" fill="#000000"/>
<text class="lg" font-size="27.4" x="531.5" y="353.9">Casted T43</text>
<line x1="464" y1="378.8" x2="525" y2="378.8" stroke="#ff0000" stroke-width="1"/>
<circle cx="494.2" cy="378.8" r="2.15" fill="#ff0000"/>
<text class="lg" font-size="27.4" x="531.5" y="388.2">Forged T43</text>
<line x1="464" y1="413.1" x2="525" y2="413.1" stroke="#0000ff" stroke-width="1.1"/>
<path d="M491.05 415.32 L497.35 415.32 L494.2 409.86 Z" fill="#0000ff"/>
<text class="lg" font-size="27.4" x="531.5" y="422.5">Casted T43-0.6B</text>
<line x1="464" y1="447.4" x2="525" y2="447.4" stroke="#ff00ff" stroke-width="1.3"/>
<path d="M491.05 445.18 L497.35 445.18 L494.2 450.64 Z" fill="#ff00ff"/>
<text class="lg" font-size="27.4" x="531.5" y="456.8">Forged T43-0.6B</text>
</g>
</g>
<g id="plot-b">
<clipPath id="clip-b"><rect x="922" y="10" width="710.55" height="530"/></clipPath>
<rect class="ax" x="922" y="10" width="710.55" height="530"/>
<path class="ax" d="M1040.42 540 v-10.5 M1158.85 540 v-10.5 M1277.28 540 v-10.5 M1395.7 540 v-10.5 M1514.12 540 v-10.5 M981.21 540 v-5.5 M1099.64 540 v-5.5 M1218.06 540 v-5.5 M1336.49 540 v-5.5 M1454.91 540 v-5.5 M1573.34 540 v-5.5 M922 473.75 h10.5 M922 407.5 h10.5 M922 341.25 h10.5 M922 275 h10.5 M922 208.75 h10.5 M922 142.5 h10.5 M922 76.25 h10.5 M922 506.88 h5.5 M922 440.62 h5.5 M922 374.38 h5.5 M922 308.12 h5.5 M922 241.88 h5.5 M922 175.62 h5.5 M922 109.38 h5.5 M922 43.12 h5.5"/>
<g clip-path="url(#clip-b)">
<path d="M922.32 535L923.69 529.17L925.02 523.32L926.31 517.46L927.56 511.6L928.78 505.73L929.97 499.85L931.13 493.96L932.25 488.07L933.35 482.17L934.43 476.26L935.48 470.35L936.51 464.43L937.52 458.51L938.51 452.59L939.49 446.66L940.45 440.73L941.4 434.8L942.34 428.86L943.27 422.92L944.2 416.98L945.12 411.04L946.04 405.1L946.96 399.16L947.88 393.21L948.8 387.27L949.73 381.33L950.67 375.39L951.61 369.46L952.56 363.52L953.53 357.59L954.51 351.66L955.51 345.74L956.53 339.82L957.56 333.9L958.62 327.99L959.71 322.08L960.82 316.18L961.95 310.29L963.12 304.4L964.32 298.52L965.55 292.65L966.81 286.78L968.1 280.92L969.43 275.07L970.79 269.23L972.18 263.39L973.61 257.56L975.08 251.74L976.58 245.93L978.12 240.13L979.7 234.34L981.31 228.55L982.96 222.78L984.65 217.01L986.39 211.26L988.16 205.51L989.97 199.78L991.82 194.05L993.72 188.34L995.66 182.63L997.64 176.94L998.31 175.04" fill="none" stroke="#000000" stroke-width="2.4" stroke-linejoin="round"/>
<path d="M924.48 535.52L924.94 533.57L925.4 531.62L925.85 529.66L926.29 527.71L926.74 525.76L927.17 523.8L927.61 521.84L928.03 519.89L928.46 517.93L928.88 515.97L929.3 514.01L929.71 512.05L930.12 510.09L930.52 508.13L930.92 506.16L931.32 504.2L931.71 502.24L932.11 500.27L932.49 498.3L932.88 496.34L933.26 494.37L933.63 492.4L934.01 490.44L934.38 488.47L934.75 486.5L935.11 484.53L935.47 482.56L935.83 480.58L936.19 478.61L936.54 476.64L936.89 474.67L937.24 472.69L937.59 470.72L937.93 468.75L938.28 466.77L938.62 464.8L938.95 462.82L939.29 460.85L939.62 458.87L939.95 456.89L940.28 454.92L940.61 452.94L940.94 450.96L941.26 448.98L941.59 447L941.91 445.03L942.23 443.05L942.55 441.07L942.86 439.09L943.18 437.11L943.49 435.13L943.81 433.15L944.12 431.17L944.43 429.19L944.74 427.21L945.05 425.23L945.36 423.25L945.67 421.27L945.98 419.29L946.29 417.31L946.6 415.32L946.9 413.34L947.21 411.36L947.52 409.38L947.82 407.4L948.13 405.42L948.43 403.44L948.74 401.46L949.05 399.48L949.35 397.5L949.66 395.52L949.97 393.54L950.27 391.56L950.58 389.58L950.89 387.6L951.2 385.62L951.51 383.64L951.82 381.66L952.13 379.68L952.44 377.7L952.76 375.73L953.07 373.75L953.39 371.77L953.7 369.79L954.02 367.82L954.34 365.84L954.66 363.86L954.98 361.89L955.3 359.91L955.63 357.94L955.95 355.96L956.28 353.99L956.61 352.01L956.95 350.04L957.28 348.07L957.61 346.1L957.95 344.13L958.29 342.15L958.64 340.18L958.98 338.21L959.33 336.24L959.68 334.28L960.03 332.31L960.38 330.34L960.74 328.37L961.1 326.41L961.46 324.44L961.83 322.48L962.2 320.51L962.57 318.55L962.94 316.59L963.32 314.63L963.7 312.67L964.08 310.71L964.47 308.75L964.86 306.79L965.26 304.83L965.65 302.87L966.05 300.92L966.46 298.96L966.87 297.01L967.28 295.05L967.69 293.1L968.11 291.15L968.53 289.2L968.96 287.25L969.39 285.3L969.82 283.35L970.26 281.4L970.7 279.46L971.14 277.51L971.59 275.57L972.04 273.62L972.5 271.68L972.96 269.74L973.42 267.8L973.88 265.86L974.36 263.92L974.83 261.98L975.31 260.04L975.79 258.1L976.28 256.17L976.77 254.23L977.26 252.3L977.76 250.37L978.26 248.44L978.77 246.5L979.28 244.58L979.79 242.65L980.31 240.72L980.83 238.79L981.36 236.87L981.89 234.94L982.42 233.02L982.96 231.1L983.51 229.18L984.06 227.25L984.61 225.34L985.16 223.42L985.72 221.5L986.29 219.58L986.86 217.67L987.43 215.76L988.01 213.84L988.59 211.93L989.18 210.02L989.77 208.11L990.37 206.2L990.97 204.3L991.57 202.39L992.18 200.49L992.8 198.58L993.42 196.68L994.04 194.78L994.67 192.88L995.3 190.98L995.94 189.08L996.58 187.19L997.23 185.29L997.88 183.4L998.54 181.51L999.2 179.61L999.86 177.72L1000.53 175.83L996.08 174.26L995.41 176.16L994.75 178.06L994.09 179.96L993.43 181.87L992.78 183.78L992.14 185.68L991.5 187.59L990.86 189.5L990.23 191.41L989.6 193.33L988.98 195.24L988.37 197.15L987.75 199.07L987.15 200.99L986.54 202.9L985.94 204.82L985.35 206.74L984.76 208.66L984.18 210.59L983.6 212.51L983.02 214.43L982.45 216.36L981.88 218.29L981.32 220.21L980.76 222.14L980.21 224.07L979.66 226L979.11 227.93L978.57 229.87L978.04 231.8L977.5 233.73L976.98 235.67L976.45 237.61L975.93 239.54L975.42 241.48L974.9 243.42L974.4 245.36L973.89 247.3L973.4 249.24L972.9 251.19L972.41 253.13L971.92 255.08L971.44 257.02L970.96 258.97L970.49 260.92L970.01 262.86L969.55 264.81L969.08 266.76L968.62 268.72L968.17 270.67L967.72 272.62L967.27 274.57L966.82 276.53L966.38 278.48L965.95 280.44L965.51 282.4L965.08 284.35L964.66 286.31L964.23 288.27L963.82 290.23L963.4 292.19L962.99 294.15L962.58 296.12L962.18 298.08L961.78 300.04L961.38 302.01L960.98 303.97L960.59 305.94L960.21 307.91L959.82 309.87L959.44 311.84L959.07 313.81L958.69 315.78L958.32 317.75L957.95 319.72L957.59 321.69L957.22 323.66L956.87 325.63L956.51 327.61L956.15 329.58L955.8 331.55L955.45 333.53L955.11 335.5L954.76 337.48L954.42 339.45L954.08 341.43L953.74 343.4L953.41 345.38L953.07 347.36L952.74 349.34L952.41 351.31L952.08 353.29L951.76 355.27L951.43 357.25L951.11 359.23L950.79 361.21L950.47 363.18L950.15 365.16L949.83 367.14L949.52 369.12L949.2 371.1L948.89 373.08L948.58 375.06L948.26 377.04L947.95 379.03L947.64 381.01L947.33 382.99L947.02 384.97L946.72 386.95L946.41 388.93L946.1 390.91L945.79 392.89L945.49 394.87L945.18 396.85L944.87 398.83L944.57 400.81L944.26 402.8L943.96 404.78L943.65 406.76L943.34 408.74L943.04 410.72L942.73 412.7L942.42 414.68L942.11 416.66L941.81 418.64L941.5 420.62L941.19 422.59L940.88 424.57L940.57 426.55L940.25 428.53L939.94 430.51L939.63 432.49L939.31 434.46L938.99 436.44L938.68 438.42L938.36 440.39L938.04 442.37L937.72 444.34L937.39 446.32L937.07 448.29L936.74 450.27L936.41 452.24L936.08 454.21L935.75 456.19L935.42 458.16L935.08 460.13L934.74 462.1L934.4 464.07L934.06 466.04L933.72 468.01L933.37 469.98L933.02 471.95L932.67 473.91L932.31 475.88L931.96 477.85L931.6 479.81L931.24 481.78L930.87 483.74L930.5 485.7L930.13 487.66L929.76 489.63L929.38 491.59L929 493.55L928.62 495.51L928.23 497.46L927.84 499.42L927.44 501.38L927.05 503.33L926.64 505.29L926.24 507.24L925.83 509.19L925.42 511.15L925 513.1L924.58 515.05L924.16 516.99L923.73 518.94L923.3 520.89L922.86 522.83L922.42 524.78L921.97 526.72L921.52 528.67L921.07 530.61L920.61 532.55L920.15 534.49ZM920.47 536.85L924.17 536.85L924.17 533.15L920.47 533.15ZM996.46 176.89L1000.16 176.89L1000.16 173.19L996.46 173.19Z" fill="#000000" fill-rule="nonzero"/>
<path d="M922.32 530.01L922.73 528.05L923.12 526.08L923.52 524.12L923.91 522.16L924.3 520.19L924.68 518.23L925.06 516.26L925.44 514.3L925.81 512.33L926.18 510.36L926.55 508.4L926.91 506.43L927.27 504.46L927.63 502.49L927.99 500.52L928.34 498.55L928.69 496.58L929.03 494.61L929.37 492.64L929.71 490.67L930.05 488.7L930.38 486.73L930.71 484.75L931.04 482.78L931.36 480.81L931.69 478.83L932.01 476.86L932.32 474.89L932.64 472.91L932.95 470.94L933.26 468.96L933.57 466.98L933.87 465.01L934.18 463.03L934.48 461.05L934.77 459.08L935.07 457.1L935.36 455.12L935.66 453.14L935.95 451.16L936.23 449.19L936.52 447.21L936.8 445.23L937.09 443.25L937.37 441.27L937.65 439.29L937.92 437.31L938.2 435.33L938.47 433.34L938.74 431.36L939.01 429.38L939.28 427.4L939.55 425.42L939.82 423.44L940.08 421.45L940.34 419.47L940.6 417.49L940.87 415.51L941.13 413.52L941.38 411.54L941.64 409.55L941.9 407.57L942.15 405.59L942.41 403.6L942.66 401.62L942.91 399.63L943.16 397.65L943.42 395.67L943.67 393.68L943.91 391.7L944.16 389.71L944.41 387.73L944.66 385.74L944.91 383.76L945.15 381.77L945.4 379.78L945.64 377.8L945.89 375.81L946.13 373.83L946.38 371.84L946.62 369.86L946.87 367.87L947.11 365.88L947.36 363.9L947.6 361.91L947.84 359.93L948.09 357.94L948.33 355.95L948.58 353.97L948.82 351.98L949.07 350L949.31 348.01L949.56 346.02L949.8 344.04L950.05 342.05L950.3 340.07L950.54 338.08L950.79 336.09L951.04 334.11L951.29 332.12L951.54 330.14L951.79 328.15L952.04 326.17L952.29 324.18L952.54 322.19L952.8 320.21L953.05 318.22L953.31 316.24L953.56 314.25L953.82 312.27L954.08 310.29L954.34 308.3L954.6 306.32L954.86 304.33L955.13 302.35L955.39 300.36L955.66 298.38L955.92 296.4L956.19 294.41L956.46 292.43L956.74 290.45L957.01 288.46L957.29 286.48L957.56 284.5L957.84 282.52L958.12 280.53L958.4 278.55L958.68 276.57L958.96 274.59L959.25 272.61L959.53 270.63L959.81 268.65L960.1 266.67L960.39 264.68L960.67 262.7L960.96 260.72L961.25 258.74L961.54 256.76L961.83 254.78L962.12 252.81L962.4 250.83L962.69 248.85L962.98 246.87L963.27 244.89L963.56 242.91L963.85 240.93L964.14 238.95L964.43 236.98L964.72 235L965.01 233.02L965.29 231.04L965.58 229.07L965.87 227.09L966.16 225.11L966.45 223.14L966.74 221.16L967.03 219.19L967.32 217.21L967.62 215.24L967.92 213.27L968.23 211.29L968.53 209.32L968.84 207.35L969.16 205.38L969.48 203.41L969.81 201.44L970.14 199.47L970.47 197.5L970.82 195.54L971.17 193.57L971.52 191.61L971.89 189.65L972.26 187.68L972.64 185.72L973.03 183.77L973.42 181.81L973.83 179.85L974.25 177.9L974.67 175.94L975.11 173.99L975.56 172.04L976.02 170.09L976.49 168.15L976.97 166.2L977.46 164.26L977.97 162.32L978.49 160.38L979.02 158.44L979.56 156.51L980.12 154.57L980.7 152.64L981.29 150.72L981.89 148.79L982.51 146.87L983.14 144.95L983.8 143.04L984.46 141.13L985.15 139.22L985.86 137.33L986.6 135.44L987.35 133.57L988.14 131.71L988.96 129.87L989.8 128.05L990.68 126.24L991.6 124.46L992.55 122.7L993.54 120.97L994.57 119.27L995.65 117.59L996.76 115.95L997.93 114.34L999.13 112.76L1000.38 111.22L1001.67 109.72L1003 108.26L1004.38 106.84L1005.79 105.46L1007.25 104.13L1008.74 102.84L1010.27 101.6L1011.84 100.4L1013.45 99.26L1015.1 98.17L1016.78 97.13L1018.5 96.15L1020.24 95.21L1022.02 94.33L1023.83 93.5L1025.66 92.71L1027.51 91.98L1029.38 91.28L1031.27 90.64L1033.17 90.04L1035.09 89.48L1037.02 88.96L1038.95 88.48L1040.89 88.04L1042.84 87.64L1044.8 87.28L1046.76 86.95L1048.73 86.66L1050.7 86.4L1052.68 86.17L1054.66 85.97L1056.65 85.79L1058.65 85.65L1060.64 85.53L1062.64 85.43L1064.65 85.36L1066.66 85.31L1068.67 85.27L1070.68 85.26L1072.7 85.27L1074.72 85.29L1076.74 85.32L1078.76 85.37L1080.78 85.43L1082.8 85.5L1084.82 85.58L1086.84 85.67L1088.86 85.77L1090.88 85.87L1092.9 85.97L1094.92 86.07L1096.94 86.18L1098.95 86.29L1100.96 86.39L1102.97 86.5L1104.98 86.61L1106.99 86.72L1108.99 86.82L1110.99 86.93L1112.99 87.04L1114.99 87.15L1116.99 87.26L1118.99 87.37L1120.98 87.49L1122.98 87.6L1124.97 87.72L1126.96 87.84L1128.95 87.96L1130.94 88.08L1132.93 88.21L1134.92 88.34L1136.91 88.47L1138.9 88.6L1140.88 88.74L1142.87 88.88L1144.86 89.03L1146.84 89.17L1148.83 89.32L1150.81 89.48L1152.8 89.64L1154.78 89.8L1156.77 89.97L1158.75 90.14L1160.74 90.32L1162.73 90.5L1164.71 90.69L1166.7 90.88L1168.68 91.07L1170.67 91.27L1172.65 91.48L1174.64 91.69L1176.63 91.9L1178.61 92.12L1180.6 92.35L1182.58 92.58L1184.57 92.81L1186.55 93.05L1188.54 93.29L1190.52 93.54L1192.5 93.8L1194.49 94.06L1196.47 94.32L1198.45 94.59L1200.43 94.86L1202.42 95.14L1204.4 95.43L1206.38 95.72L1208.36 96.01L1210.34 96.31L1212.32 96.62L1214.29 96.93L1216.27 97.24L1218.25 97.56L1220.22 97.89L1222.2 98.22L1224.17 98.56L1226.15 98.9L1228.12 99.25L1230.09 99.6L1232.06 99.96L1234.03 100.33L1236 100.7L1237.97 101.07L1239.93 101.46L1241.9 101.84L1243.86 102.24L1245.82 102.63L1247.79 103.04L1249.75 103.45L1251.71 103.87L1253.66 104.29L1255.62 104.72L1257.58 105.15L1259.53 105.59L1261.48 106.03L1263.43 106.48L1265.38 106.94L1267.33 107.41L1269.28 107.87L1271.22 108.35L1273.17 108.83L1275.11 109.32L1277.05 109.81L1278.99 110.31L1280.93 110.82L1282.86 111.33L1284.79 111.85L1286.73 112.37L1288.66 112.91L1290.58 113.44L1292.51 113.99L1294.43 114.54L1296.35 115.1L1298.27 115.66L1300.19 116.23L1302.11 116.81L1304.02 117.4L1305.93 117.99L1307.84 118.59L1309.74 119.19L1311.65 119.81L1313.55 120.43L1315.45 121.05L1317.34 121.69L1319.24 122.33L1321.13 122.98L1323.02 123.64L1324.9 124.3L1326.78 124.97L1328.66 125.65L1330.54 126.34L1332.41 127.03L1334.29 127.73L1336.15 128.44L1338.02 129.16L1339.88 129.88L1341.74 130.61L1343.6 131.36L1345.45 132.1L1347.3 132.86L1349.14 133.62L1350.99 134.4L1352.83 135.18L1354.66 135.97L1356.49 136.77L1358.32 137.57L1360.15 138.39L1361.97 139.21L1363.79 140.04L1365.6 140.88L1367.42 141.73L1369.22 142.58L1371.03 143.45L1372.83 144.32L1374.62 145.21L1376.41 146.1L1378.2 147L1379.99 147.91L1381.77 148.83L1383.54 149.76L1385.31 150.69L1387.08 151.64L1388.84 152.59L1390.6 153.56L1392.36 154.53L1394.1 155.52L1395.84 156.52L1397.58 157.52L1399.3 158.55L1401.02 159.58L1402.73 160.62L1404.43 161.68L1406.12 162.76L1407.8 163.85L1409.47 164.95L1411.13 166.07L1412.77 167.2L1414.41 168.36L1416.03 169.52L1417.63 170.71L1419.22 171.92L1420.8 173.14L1422.36 174.38L1423.9 175.64L1425.43 176.92L1426.94 178.23L1428.43 179.55L1429.9 180.89L1431.36 182.26L1432.79 183.65L1434.21 185.06L1435.6 186.5L1436.98 187.96L1438.33 189.44L1439.65 190.95L1440.95 192.48L1442.22 194.03L1443.47 195.61L1444.68 197.21L1445.86 198.83L1447 200.47L1448.11 202.14L1449.19 203.83L1450.22 205.54L1451.22 207.27L1452.17 209.02L1453.08 210.8L1453.94 212.59L1454.76 214.41L1455.53 216.25L1456.25 218.1L1456.91 219.98L1457.53 221.88L1458.09 223.8L1458.59 225.73L1459.04 227.69L1459.43 229.66" fill="none" stroke="#ff0000" stroke-width="4.4" stroke-linecap="round" stroke-linejoin="round"/>
<path d="M926.01 539.69L927.26 533.83L928.49 527.96L929.69 522.08L930.89 516.2L932.06 510.32L933.21 504.43L934.35 498.53L935.48 492.63L936.59 486.73L937.69 480.82L938.77 474.91L939.85 469L940.92 463.09L941.97 457.17L943.02 451.25L944.06 445.33L945.1 439.4L946.13 433.48L947.16 427.55L948.18 421.62L949.21 415.69L950.23 409.76L951.25 403.84L952.28 397.91L953.3 391.98L954.33 386.05L955.36 380.12L956.4 374.2L957.45 368.27L958.5 362.35L959.56 356.43L960.63 350.51L961.71 344.6L962.8 338.68L963.9 332.77L965.01 326.87L966.14 320.96L967.29 315.06L968.45 309.17L969.63 303.28L970.82 297.39L972.04 291.51L973.28 285.63L974.53 279.76L975.81 273.9L977.11 268.04L978.44 262.19L979.79 256.34L981.17 250.5L982.57 244.67L984.01 238.84L985.47 233.03L986.96 227.22L988.49 221.41L990.04 215.62L991.63 209.84L993.26 204.06L994.91 198.29L996.61 192.54L998.34 186.79L1000.11 181.05L1001.92 175.32L1003.77 169.61L1005.66 163.9L1007.6 158.21L1009.57 152.52L1011.59 146.85L1013.66 141.19L1015.77 135.54L1017.93 129.9L1020.14 124.28L1020.14 124.28" fill="none" stroke="#0000ff" stroke-width="2.4" stroke-linejoin="round"/>
<path d="M928.52 540.23L928.94 538.27L929.35 536.32L929.77 534.36L930.18 532.4L930.59 530.44L931 528.48L931.41 526.52L931.81 524.56L932.21 522.6L932.61 520.63L933.01 518.67L933.41 516.71L933.8 514.75L934.19 512.78L934.58 510.82L934.97 508.85L935.36 506.89L935.74 504.92L936.13 502.95L936.51 500.99L936.89 499.02L937.26 497.05L937.64 495.08L938.01 493.11L938.39 491.14L938.76 489.17L939.13 487.2L939.49 485.23L939.86 483.26L940.23 481.29L940.59 479.32L940.95 477.35L941.31 475.38L941.67 473.41L942.03 471.43L942.39 469.46L942.75 467.49L943.1 465.52L943.46 463.54L943.81 461.57L944.17 459.6L944.52 457.62L944.87 455.65L945.22 453.67L945.57 451.7L945.92 449.72L946.26 447.75L946.61 445.77L946.96 443.8L947.3 441.82L947.65 439.85L947.99 437.87L948.34 435.89L948.68 433.92L949.02 431.94L949.37 429.97L949.71 427.99L950.05 426.01L950.39 424.04L950.73 422.06L951.08 420.09L951.42 418.11L951.76 416.13L952.1 414.16L952.44 412.18L952.78 410.2L953.12 408.23L953.46 406.25L953.8 404.28L954.14 402.3L954.48 400.32L954.82 398.35L955.17 396.37L955.51 394.4L955.85 392.42L956.19 390.44L956.54 388.47L956.88 386.49L957.22 384.52L957.57 382.54L957.91 380.57L958.26 378.59L958.6 376.62L958.95 374.65L959.3 372.67L959.64 370.7L959.99 368.72L960.34 366.75L960.69 364.78L961.04 362.8L961.39 360.83L961.75 358.86L962.1 356.89L962.45 354.92L962.81 352.94L963.17 350.97L963.53 349L963.88 347.03L964.24 345.06L964.61 343.09L964.97 341.12L965.33 339.15L965.7 337.19L966.07 335.22L966.43 333.25L966.8 331.28L967.17 329.31L967.55 327.35L967.92 325.38L968.3 323.42L968.67 321.45L969.05 319.49L969.43 317.52L969.82 315.56L970.2 313.6L970.59 311.63L970.97 309.67L971.36 307.71L971.76 305.75L972.15 303.79L972.55 301.83L972.94 299.87L973.34 297.91L973.74 295.95L974.15 293.99L974.55 292.04L974.96 290.08L975.37 288.12L975.79 286.17L976.2 284.21L976.62 282.26L977.04 280.31L977.46 278.35L977.89 276.4L978.31 274.45L978.74 272.5L979.18 270.55L979.61 268.6L980.05 266.65L980.49 264.71L980.93 262.76L981.38 260.81L981.83 258.87L982.28 256.92L982.74 254.98L983.19 253.04L983.65 251.09L984.12 249.15L984.58 247.21L985.05 245.27L985.53 243.33L986 241.4L986.48 239.46L986.96 237.52L987.45 235.59L987.94 233.65L988.43 231.72L988.92 229.79L989.42 227.86L989.92 225.92L990.43 223.99L990.94 222.07L991.45 220.14L991.97 218.21L992.49 216.29L993.01 214.36L993.54 212.44L994.07 210.51L994.6 208.59L995.14 206.67L995.68 204.75L996.23 202.83L996.78 200.91L997.33 199L997.89 197.08L998.45 195.17L999.02 193.25L999.59 191.34L1000.17 189.43L1000.74 187.52L1001.33 185.61L1001.91 183.7L1002.5 181.8L1003.1 179.89L1003.7 177.99L1004.3 176.09L1004.91 174.18L1005.52 172.28L1006.14 170.38L1006.76 168.49L1007.39 166.59L1008.02 164.69L1008.66 162.8L1009.3 160.9L1009.94 159.01L1010.59 157.12L1011.25 155.23L1011.91 153.34L1012.57 151.46L1013.24 149.57L1013.92 147.69L1014.59 145.8L1015.28 143.92L1015.97 142.04L1016.66 140.16L1017.36 138.29L1018.07 136.41L1018.78 134.54L1019.49 132.66L1020.21 130.79L1020.94 128.92L1021.67 127.05L1022.41 125.18L1017.87 123.38L1017.12 125.26L1016.38 127.14L1015.65 129.02L1014.92 130.9L1014.19 132.79L1013.47 134.67L1012.76 136.56L1012.05 138.45L1011.35 140.34L1010.65 142.23L1009.96 144.12L1009.27 146.01L1008.59 147.91L1007.91 149.8L1007.24 151.7L1006.57 153.6L1005.91 155.5L1005.25 157.4L1004.59 159.3L1003.95 161.21L1003.3 163.11L1002.66 165.02L1002.03 166.92L1001.4 168.83L1000.78 170.74L1000.16 172.65L999.54 174.56L998.93 176.48L998.32 178.39L997.72 180.3L997.12 182.22L996.53 184.14L995.94 186.06L995.36 187.98L994.77 189.9L994.2 191.82L993.63 193.74L993.06 195.67L992.49 197.59L991.93 199.52L991.38 201.44L990.83 203.37L990.28 205.3L989.74 207.23L989.2 209.16L988.66 211.09L988.13 213.02L987.6 214.96L987.07 216.89L986.55 218.83L986.04 220.76L985.52 222.7L985.01 224.64L984.5 226.58L984 228.52L983.5 230.46L983 232.4L982.51 234.34L982.02 236.28L981.54 238.23L981.05 240.17L980.57 242.12L980.1 244.07L979.62 246.01L979.15 247.96L978.69 249.91L978.22 251.86L977.76 253.81L977.3 255.76L976.85 257.71L976.4 259.66L975.95 261.62L975.5 263.57L975.06 265.52L974.61 267.48L974.18 269.43L973.74 271.39L973.31 273.35L972.88 275.31L972.45 277.26L972.02 279.22L971.6 281.18L971.18 283.14L970.76 285.1L970.35 287.06L969.93 289.02L969.52 290.99L969.11 292.95L968.71 294.91L968.3 296.88L967.9 298.84L967.5 300.8L967.1 302.77L966.71 304.74L966.32 306.7L965.92 308.67L965.53 310.63L965.15 312.6L964.76 314.57L964.38 316.54L963.99 318.51L963.61 320.48L963.23 322.45L962.86 324.42L962.48 326.39L962.11 328.36L961.73 330.33L961.36 332.3L960.99 334.27L960.62 336.24L960.26 338.21L959.89 340.19L959.53 342.16L959.17 344.13L958.8 346.1L958.44 348.08L958.08 350.05L957.73 352.03L957.37 354L957.01 355.97L956.66 357.95L956.31 359.92L955.95 361.9L955.6 363.87L955.25 365.85L954.9 367.82L954.55 369.8L954.2 371.77L953.86 373.75L953.51 375.73L953.16 377.7L952.82 379.68L952.47 381.66L952.13 383.63L951.78 385.61L951.44 387.58L951.1 389.56L950.75 391.54L950.41 393.51L950.07 395.49L949.73 397.47L949.39 399.44L949.04 401.42L948.7 403.4L948.36 405.37L948.02 407.35L947.68 409.33L947.34 411.3L947 413.28L946.66 415.25L946.32 417.23L945.98 419.21L945.64 421.18L945.29 423.16L944.95 425.13L944.61 427.11L944.27 429.08L943.93 431.06L943.58 433.03L943.24 435.01L942.9 436.98L942.55 438.96L942.21 440.93L941.86 442.91L941.52 444.88L941.17 446.85L940.82 448.83L940.48 450.8L940.13 452.77L939.78 454.74L939.43 456.72L939.08 458.69L938.73 460.66L938.37 462.63L938.02 464.6L937.66 466.57L937.31 468.54L936.95 470.51L936.59 472.48L936.23 474.45L935.87 476.42L935.51 478.39L935.15 480.35L934.79 482.32L934.42 484.29L934.05 486.26L933.69 488.22L933.32 490.19L932.94 492.15L932.57 494.12L932.2 496.08L931.82 498.05L931.44 500.01L931.07 501.97L930.68 503.93L930.3 505.9L929.92 507.86L929.53 509.82L929.14 511.78L928.75 513.74L928.36 515.7L927.97 517.65L927.57 519.61L927.17 521.57L926.77 523.52L926.37 525.48L925.97 527.44L925.56 529.39L925.15 531.34L924.74 533.3L924.33 535.25L923.91 537.2L923.5 539.15ZM923.07 541.14L928.32 541.14L925.7 536.59ZM1016.99 125.59L1022.24 125.59L1019.62 121.05Z" fill="#0000ff" fill-rule="nonzero"/>
<path d="M922.29 539.7L925.16 534.4L927.84 529.02L930.34 523.56L932.67 518.03L934.84 512.44L936.85 506.79L938.72 501.08L940.46 495.33L942.06 489.54L943.55 483.72L944.93 477.87L946.21 471.99L947.4 466.1L948.51 460.2L949.55 454.29L950.52 448.37L951.42 442.44L952.27 436.5L953.08 430.56L953.84 424.61L954.56 418.66L955.26 412.7L955.93 406.73L956.59 400.77L957.23 394.8L957.88 388.83L958.52 382.85L959.18 376.88L959.83 370.9L960.49 364.93L961.16 358.95L961.82 352.97L962.5 347L963.18 341.02L963.86 335.05L964.55 329.07L965.25 323.1L965.95 317.13L966.66 311.16L967.38 305.19L968.11 299.22L968.84 293.26L969.58 287.29L970.32 281.33L971.08 275.38L971.84 269.43L972.61 263.48L973.39 257.53L974.18 251.59L974.98 245.65L975.79 239.72L976.61 233.79L977.44 227.86L978.28 221.94L979.15 216.02L980.03 210.1L980.93 204.18L981.86 198.26L982.82 192.34L983.8 186.42L984.82 180.5L985.87 174.57L986.96 168.63L988.09 162.7L989.26 156.75L990.51 150.82L991.86 144.91L993.34 139.03L995 133.21L996.86 127.45L998.95 121.78L1001.31 116.2L1003.95 110.76L1006.89 105.51L1010.14 100.48L1013.71 95.73L1017.63 91.31L1021.88 87.25L1026.45 83.56L1031.31 80.25L1036.42 77.32L1041.76 74.79L1047.29 72.65L1052.98 70.92L1058.8 69.57L1064.73 68.55L1070.73 67.8L1076.79 67.27L1082.88 66.89L1088.96 66.62L1095.02 66.4L1101.07 66.23L1107.1 66.12L1113.11 66.05L1119.12 66.03L1125.11 66.05L1131.1 66.11L1137.08 66.21L1143.06 66.34L1149.04 66.5L1155.02 66.68L1161 66.9L1166.99 67.14L1172.97 67.4L1178.97 67.69L1184.96 68L1190.96 68.34L1196.95 68.71L1202.95 69.12L1208.95 69.55L1214.95 70.01L1220.94 70.5L1226.94 71.03L1232.93 71.59L1238.92 72.19L1244.9 72.83L1250.88 73.5L1256.86 74.21L1262.83 74.95L1268.79 75.74L1274.75 76.57L1280.7 77.44L1286.64 78.35L1292.58 79.31L1298.5 80.31L1304.42 81.36L1310.32 82.45L1316.21 83.59L1322.1 84.78L1327.97 86.02L1333.83 87.31L1339.67 88.65L1345.5 90.04L1351.32 91.49L1357.12 92.99L1362.9 94.54L1368.67 96.15L1374.43 97.82L1380.16 99.54L1385.88 101.33L1391.58 103.17L1397.25 105.07L1402.91 107.04L1408.55 109.07L1414.17 111.16L1419.77 113.32L1425.34 115.54L1430.89 117.82L1436.42 120.18L1441.92 122.6L1447.4 125.09L1452.85 127.66L1458.28 130.29L1463.68 133L1469.04 135.78L1474.36 138.65L1479.64 141.6L1484.85 144.64L1490.01 147.77L1495.1 151L1500.11 154.34L1505.04 157.78L1509.88 161.33L1514.63 164.99L1519.27 168.77L1523.8 172.68L1528.22 176.71L1532.52 180.87L1536.67 185.16L1540.69 189.59L1544.54 194.14L1548.24 198.83L1551.76 203.66L1555.11 208.62L1558.29 213.7L1561.32 218.89L1564.22 224.16L1566.99 229.5L1569.64 234.91L1572.19 240.36L1574.63 245.86L1576.97 251.4L1579.22 256.98L1581.38 262.59L1583.45 268.24L1585.43 273.93L1587.32 279.64L1589.14 285.37L1590.88 291.13L1592.54 296.91L1594.14 302.7L1595.67 308.51L1597.13 314.33L1598.5 320.17L1599.79 326.02L1600.97 331.9L1602.03 337.79L1602.96 343.7L1603.75 349.63L1604.38 355.59L1604.85 361.58L1605.13 367.59L1605.23 373.63L1605.22 375.65" fill="none" stroke="#ff00ff" stroke-width="2.4" stroke-linejoin="round"/>
<path d="M924.29 540.82L925.28 539.05L926.27 537.27L927.23 535.47L928.17 533.67L929.08 531.86L929.98 530.04L930.86 528.21L931.71 526.37L932.54 524.53L933.36 522.67L934.15 520.81L934.93 518.94L935.69 517.07L936.43 515.18L937.15 513.29L937.85 511.4L938.54 509.5L939.21 507.59L939.86 505.68L940.49 503.76L941.11 501.83L941.72 499.9L942.3 497.97L942.88 496.03L943.44 494.09L943.98 492.15L944.51 490.2L945.03 488.24L945.54 486.29L946.03 484.33L946.51 482.36L946.97 480.4L947.43 478.43L947.87 476.46L948.31 474.49L948.73 472.52L949.14 470.55L949.54 468.57L949.93 466.59L950.32 464.62L950.69 462.64L951.06 460.66L951.41 458.68L951.76 456.7L952.1 454.72L952.43 452.74L952.76 450.76L953.08 448.77L953.39 446.79L953.69 444.8L953.99 442.82L954.28 440.83L954.57 438.85L954.85 436.86L955.12 434.87L955.39 432.89L955.66 430.9L955.92 428.91L956.17 426.92L956.42 424.93L956.67 422.94L956.91 420.95L957.15 418.96L957.38 416.97L957.62 414.98L957.85 412.99L958.07 411L958.3 409.01L958.52 407.02L958.74 405.03L958.96 403.04L959.18 401.05L959.4 399.06L959.61 397.07L959.83 395.08L960.04 393.09L960.26 391.1L960.47 389.11L960.69 387.12L960.9 385.12L961.12 383.13L961.34 381.14L961.55 379.15L961.77 377.16L961.99 375.17L962.21 373.18L962.42 371.19L962.64 369.2L962.86 367.21L963.08 365.21L963.3 363.22L963.53 361.23L963.75 359.24L963.97 357.25L964.19 355.26L964.42 353.27L964.64 351.27L964.86 349.28L965.09 347.29L965.32 345.3L965.54 343.31L965.77 341.32L966 339.33L966.22 337.34L966.45 335.35L966.68 333.35L966.91 331.36L967.14 329.37L967.38 327.38L967.61 325.39L967.84 323.4L968.07 321.41L968.31 319.42L968.54 317.43L968.78 315.44L969.02 313.45L969.25 311.47L969.49 309.48L969.73 307.49L969.97 305.5L970.21 303.51L970.45 301.52L970.69 299.54L970.93 297.55L971.18 295.56L971.42 293.57L971.67 291.59L971.91 289.6L972.16 287.62L972.41 285.63L972.66 283.65L972.91 281.66L973.16 279.68L973.41 277.69L973.66 275.71L973.91 273.72L974.17 271.74L974.42 269.76L974.68 267.78L974.93 265.79L975.19 263.81L975.45 261.83L975.71 259.85L975.97 257.87L976.23 255.89L976.5 253.91L976.76 251.93L977.02 249.95L977.29 247.98L977.56 246L977.83 244.02L978.09 242.04L978.36 240.07L978.64 238.09L978.91 236.12L979.18 234.14L979.46 232.17L979.73 230.2L980.01 228.23L980.29 226.25L980.57 224.28L980.85 222.31L981.14 220.34L981.43 218.37L981.71 216.4L982.01 214.43L982.3 212.46L982.59 210.49L982.89 208.52L983.19 206.55L983.5 204.58L983.8 202.61L984.11 200.64L984.42 198.67L984.74 196.7L985.05 194.73L985.37 192.76L985.7 190.79L986.02 188.82L986.36 186.85L986.69 184.88L987.03 182.91L987.37 180.94L987.71 178.97L988.06 177L988.41 175.03L988.77 173.05L989.13 171.08L989.5 169.11L989.87 167.13L990.24 165.16L990.62 163.19L991 161.21L991.39 159.24L991.78 157.27L992.18 155.3L992.59 153.33L993.01 151.37L993.44 149.41L993.88 147.45L994.34 145.5L994.81 143.56L995.29 141.62L995.79 139.69L996.31 137.76L996.85 135.85L997.4 133.94L997.98 132.04L998.58 130.15L999.2 128.26L999.85 126.39L1000.52 124.53L1001.22 122.67L1001.95 120.83L1002.7 119L1003.49 117.19L1004.3 115.39L1005.14 113.6L1006.01 111.84L1006.92 110.09L1007.85 108.37L1008.86 106.69L1009.9 105.04L1010.98 103.43L1012.09 101.84L1013.23 100.29L1014.41 98.77L1015.62 97.28L1016.86 95.84L1018.13 94.43L1019.44 93.06L1020.79 91.73L1022.17 90.44L1023.58 89.18L1025.02 87.97L1026.5 86.79L1028.01 85.65L1029.54 84.55L1031.11 83.49L1032.7 82.47L1034.32 81.49L1035.96 80.55L1037.64 79.65L1039.33 78.79L1041.05 77.96L1042.79 77.18L1044.55 76.44L1046.33 75.74L1048.13 75.09L1049.94 74.47L1051.78 73.9L1053.63 73.37L1055.5 72.87L1057.38 72.42L1059.29 72.01L1061.2 71.63L1063.14 71.28L1065.08 70.96L1067.04 70.68L1069.01 70.42L1070.98 70.19L1072.97 69.98L1074.96 69.79L1076.97 69.63L1078.97 69.48L1080.98 69.35L1083 69.23L1085.02 69.12L1087.03 69.03L1089.05 68.94L1091.07 68.86L1093.08 68.78L1095.1 68.71L1097.11 68.65L1099.11 68.59L1101.12 68.54L1103.13 68.49L1105.13 68.45L1107.13 68.41L1109.13 68.38L1111.13 68.36L1113.13 68.34L1115.13 68.32L1117.12 68.31L1119.12 68.3L1121.11 68.31L1123.11 68.32L1125.1 68.33L1127.09 68.35L1129.08 68.37L1131.07 68.4L1133.06 68.43L1135.05 68.47L1137.04 68.5L1139.03 68.55L1141.02 68.59L1143.01 68.64L1144.99 68.69L1146.98 68.75L1148.97 68.81L1150.96 68.87L1152.95 68.93L1154.94 69L1156.93 69.07L1158.92 69.14L1160.91 69.22L1162.9 69.3L1164.9 69.38L1166.89 69.46L1168.88 69.55L1170.87 69.63L1172.87 69.73L1174.86 69.82L1176.85 69.92L1178.85 70.02L1180.84 70.12L1182.84 70.23L1184.83 70.34L1186.83 70.45L1188.82 70.57L1190.82 70.69L1192.81 70.81L1194.81 70.93L1196.8 71.06L1198.8 71.19L1200.79 71.33L1202.79 71.47L1204.78 71.61L1206.78 71.76L1208.77 71.9L1210.77 72.06L1212.76 72.21L1214.76 72.37L1216.75 72.54L1218.75 72.7L1220.74 72.87L1222.73 73.05L1224.73 73.22L1226.72 73.41L1228.71 73.59L1230.71 73.78L1232.7 73.97L1234.69 74.17L1236.68 74.37L1238.67 74.58L1240.66 74.78L1242.65 75L1244.64 75.21L1246.63 75.44L1248.62 75.66L1250.61 75.89L1252.59 76.12L1254.58 76.36L1256.57 76.6L1258.55 76.85L1260.53 77.1L1262.52 77.36L1264.5 77.62L1266.48 77.88L1268.47 78.15L1270.45 78.42L1272.43 78.7L1274.41 78.98L1276.38 79.27L1278.36 79.56L1280.34 79.86L1282.31 80.16L1284.29 80.46L1286.26 80.77L1288.23 81.09L1290.21 81.41L1292.18 81.73L1294.15 82.06L1296.11 82.4L1298.08 82.74L1300.05 83.08L1302.01 83.43L1303.98 83.79L1305.94 84.15L1307.9 84.52L1309.86 84.89L1311.82 85.26L1313.78 85.64L1315.73 86.03L1317.69 86.42L1319.64 86.82L1321.59 87.22L1323.54 87.63L1325.49 88.04L1327.44 88.46L1329.39 88.89L1331.33 89.32L1333.28 89.75L1335.22 90.2L1337.16 90.64L1339.1 91.1L1341.04 91.55L1342.97 92.02L1344.9 92.49L1346.84 92.97L1348.77 93.45L1350.7 93.94L1352.62 94.43L1354.55 94.93L1356.47 95.43L1358.4 95.95L1360.32 96.47L1362.23 96.99L1364.15 97.52L1366.06 98.06L1367.98 98.6L1369.89 99.15L1371.8 99.7L1373.7 100.27L1375.61 100.83L1377.51 101.41L1379.41 101.99L1381.31 102.58L1383.21 103.17L1385.1 103.77L1386.99 104.38L1388.88 104.99L1390.77 105.61L1392.66 106.24L1394.54 106.87L1396.42 107.51L1398.3 108.16L1400.18 108.81L1402.05 109.47L1403.93 110.14L1405.8 110.81L1407.66 111.5L1409.53 112.18L1411.39 112.88L1413.25 113.58L1415.11 114.29L1416.97 115.01L1418.82 115.73L1420.67 116.46L1422.52 117.2L1424.36 117.95L1426.21 118.7L1428.05 119.46L1429.88 120.23L1431.72 121L1433.55 121.78L1435.38 122.57L1437.21 123.37L1439.03 124.17L1440.85 124.99L1442.67 125.81L1444.49 126.63L1446.3 127.47L1448.11 128.31L1449.92 129.16L1451.73 130.02L1453.53 130.88L1455.33 131.76L1457.12 132.64L1458.91 133.53L1460.7 134.43L1462.49 135.33L1464.27 136.25L1466.04 137.17L1467.82 138.1L1469.58 139.04L1471.34 139.99L1473.1 140.95L1474.85 141.91L1476.6 142.89L1478.34 143.88L1480.07 144.87L1481.79 145.88L1483.51 146.89L1485.22 147.92L1486.93 148.95L1488.63 150L1490.31 151.06L1492 152.12L1493.67 153.2L1495.33 154.29L1496.99 155.39L1498.64 156.5L1500.27 157.62L1501.9 158.76L1503.52 159.9L1505.13 161.06L1506.73 162.23L1508.31 163.41L1509.89 164.6L1511.46 165.81L1513.01 167.03L1514.56 168.26L1516.09 169.5L1517.61 170.76L1519.12 172.03L1520.61 173.31L1522.1 174.61L1523.57 175.91L1525.03 177.24L1526.47 178.57L1527.9 179.92L1529.32 181.29L1530.72 182.67L1532.11 184.06L1533.48 185.46L1534.84 186.88L1536.18 188.32L1537.51 189.76L1538.82 191.22L1540.11 192.7L1541.38 194.19L1542.64 195.69L1543.88 197.21L1545.11 198.75L1546.31 200.29L1547.5 201.86L1548.66 203.43L1549.81 205.03L1550.94 206.64L1552.05 208.26L1553.15 209.9L1554.22 211.55L1555.28 213.22L1556.32 214.89L1557.35 216.58L1558.36 218.29L1559.34 220.01L1560.3 221.75L1561.24 223.49L1562.17 225.25L1563.09 227.01L1564 228.78L1564.89 230.56L1565.77 232.34L1566.64 234.13L1567.5 235.93L1568.35 237.73L1569.19 239.54L1570.01 241.35L1570.83 243.17L1571.63 244.99L1572.42 246.82L1573.2 248.65L1573.97 250.48L1574.73 252.32L1575.48 254.17L1576.22 256.02L1576.95 257.87L1577.67 259.73L1578.38 261.59L1579.08 263.46L1579.77 265.33L1580.45 267.2L1581.12 269.08L1581.78 270.96L1582.43 272.84L1583.07 274.73L1583.71 276.62L1584.33 278.51L1584.95 280.41L1585.55 282.3L1586.15 284.21L1586.74 286.11L1587.32 288.02L1587.9 289.93L1588.46 291.84L1589.02 293.76L1589.57 295.67L1590.11 297.59L1590.65 299.51L1591.17 301.44L1591.69 303.36L1592.2 305.29L1592.71 307.22L1593.21 309.14L1593.69 311.07L1594.18 313.01L1594.65 314.94L1595.11 316.87L1595.57 318.8L1596.01 320.74L1596.44 322.68L1596.86 324.61L1597.28 326.55L1597.67 328.49L1598.06 330.44L1598.43 332.38L1598.8 334.32L1599.14 336.27L1599.48 338.22L1599.8 340.17L1600.1 342.12L1600.39 344.07L1600.66 346.03L1600.92 347.98L1601.16 349.94L1601.38 351.9L1601.59 353.87L1601.78 355.83L1601.95 357.8L1602.1 359.77L1602.23 361.74L1602.35 363.72L1602.44 365.69L1602.51 367.67L1602.56 369.65L1602.6 371.64L1602.61 373.63L1602.59 375.63L1607.84 375.67L1607.86 373.63L1607.85 371.59L1607.81 369.54L1607.76 367.5L1607.68 365.47L1607.58 363.44L1607.46 361.41L1607.32 359.39L1607.16 357.37L1606.98 355.35L1606.79 353.34L1606.57 351.33L1606.34 349.32L1606.08 347.32L1605.82 345.32L1605.53 343.32L1605.23 341.33L1604.91 339.34L1604.58 337.35L1604.23 335.37L1603.87 333.39L1603.5 331.41L1603.11 329.44L1602.71 327.46L1602.3 325.5L1601.88 323.53L1601.44 321.56L1601 319.6L1600.54 317.64L1600.08 315.69L1599.6 313.73L1599.12 311.78L1598.63 309.83L1598.13 307.88L1597.62 305.93L1597.11 303.99L1596.59 302.04L1596.06 300.1L1595.52 298.16L1594.98 296.22L1594.42 294.28L1593.86 292.35L1593.29 290.42L1592.71 288.49L1592.13 286.56L1591.53 284.63L1590.93 282.71L1590.32 280.78L1589.7 278.87L1589.07 276.95L1588.43 275.04L1587.78 273.13L1587.12 271.22L1586.45 269.31L1585.77 267.41L1585.09 265.52L1584.39 263.62L1583.68 261.73L1582.96 259.85L1582.24 257.96L1581.5 256.08L1580.75 254.21L1579.99 252.34L1579.22 250.47L1578.44 248.61L1577.64 246.75L1576.84 244.9L1576.02 243.05L1575.2 241.21L1574.36 239.37L1573.51 237.54L1572.65 235.71L1571.77 233.89L1570.89 232.07L1569.99 230.26L1569.08 228.45L1568.16 226.65L1567.22 224.86L1566.26 223.07L1565.29 221.29L1564.31 219.52L1563.31 217.76L1562.3 216.01L1561.29 214.26L1560.26 212.51L1559.21 210.78L1558.15 209.06L1557.07 207.35L1555.97 205.65L1554.85 203.97L1553.71 202.3L1552.55 200.64L1551.37 199L1550.17 197.37L1548.94 195.76L1547.7 194.17L1546.44 192.59L1545.17 191.03L1543.87 189.48L1542.55 187.95L1541.22 186.43L1539.87 184.93L1538.5 183.44L1537.12 181.97L1535.72 180.52L1534.31 179.08L1532.88 177.66L1531.43 176.25L1529.97 174.85L1528.5 173.47L1527.01 172.11L1525.51 170.76L1524 169.42L1522.47 168.1L1520.93 166.79L1519.38 165.5L1517.81 164.22L1516.24 162.96L1514.65 161.71L1513.05 160.47L1511.45 159.24L1509.83 158.03L1508.2 156.84L1506.56 155.65L1504.91 154.48L1503.25 153.32L1501.58 152.17L1499.91 151.04L1498.22 149.92L1496.53 148.8L1494.82 147.71L1493.11 146.62L1491.39 145.54L1489.67 144.48L1487.94 143.42L1486.2 142.38L1484.45 141.35L1482.7 140.33L1480.94 139.32L1479.17 138.32L1477.4 137.33L1475.63 136.35L1473.84 135.37L1472.06 134.41L1470.27 133.46L1468.47 132.52L1466.67 131.59L1464.87 130.66L1463.06 129.75L1461.25 128.84L1459.44 127.94L1457.62 127.05L1455.8 126.17L1453.98 125.3L1452.16 124.43L1450.33 123.57L1448.5 122.72L1446.66 121.88L1444.83 121.05L1442.99 120.22L1441.15 119.4L1439.3 118.59L1437.45 117.79L1435.6 116.99L1433.75 116.2L1431.9 115.42L1430.04 114.65L1428.18 113.89L1426.32 113.13L1424.45 112.38L1422.58 111.63L1420.71 110.9L1418.84 110.17L1416.97 109.45L1415.09 108.74L1413.21 108.03L1411.33 107.33L1409.44 106.64L1407.55 105.95L1405.67 105.28L1403.77 104.61L1401.88 103.94L1399.98 103.29L1398.09 102.64L1396.19 101.99L1394.28 101.36L1392.38 100.73L1390.47 100.11L1388.56 99.49L1386.65 98.88L1384.74 98.28L1382.83 97.69L1380.91 97.1L1378.99 96.51L1377.07 95.94L1375.15 95.37L1373.22 94.81L1371.3 94.25L1369.37 93.7L1367.44 93.16L1365.51 92.62L1363.57 92.09L1361.64 91.57L1359.7 91.05L1357.76 90.54L1355.82 90.03L1353.88 89.53L1351.94 89.04L1349.99 88.55L1348.05 88.07L1346.1 87.59L1344.15 87.12L1342.2 86.66L1340.24 86.2L1338.29 85.75L1336.33 85.3L1334.37 84.86L1332.42 84.43L1330.46 84L1328.49 83.58L1326.53 83.16L1324.57 82.75L1322.6 82.34L1320.63 81.94L1318.67 81.54L1316.7 81.15L1314.73 80.77L1312.75 80.39L1310.78 80.02L1308.81 79.65L1306.83 79.28L1304.86 78.93L1302.88 78.57L1300.9 78.23L1298.92 77.88L1296.94 77.55L1294.96 77.21L1292.98 76.89L1290.99 76.56L1289.01 76.25L1287.02 75.93L1285.04 75.63L1283.05 75.32L1281.06 75.02L1279.07 74.73L1277.08 74.44L1275.09 74.16L1273.1 73.88L1271.11 73.6L1269.12 73.33L1267.12 73.07L1265.13 72.81L1263.14 72.55L1261.14 72.3L1259.15 72.05L1257.15 71.81L1255.15 71.57L1253.16 71.33L1251.16 71.1L1249.16 70.88L1247.16 70.66L1245.16 70.44L1243.16 70.22L1241.16 70.01L1239.16 69.81L1237.16 69.61L1235.16 69.41L1233.16 69.22L1231.16 69.03L1229.15 68.84L1227.15 68.66L1225.15 68.48L1223.15 68.31L1221.14 68.14L1219.14 67.97L1217.14 67.81L1215.14 67.65L1213.13 67.49L1211.13 67.34L1209.13 67.19L1207.12 67.04L1205.12 66.9L1203.11 66.76L1201.11 66.63L1199.11 66.5L1197.11 66.37L1195.1 66.24L1193.1 66.12L1191.1 66L1189.09 65.88L1187.09 65.77L1185.09 65.66L1183.09 65.56L1181.09 65.45L1179.08 65.35L1177.08 65.26L1175.08 65.16L1173.08 65.07L1171.08 64.98L1169.08 64.89L1167.08 64.81L1165.08 64.73L1163.09 64.65L1161.09 64.58L1159.09 64.51L1157.09 64.44L1155.1 64.37L1153.1 64.31L1151.1 64.24L1149.11 64.19L1147.11 64.13L1145.11 64.08L1143.12 64.03L1141.12 63.99L1139.12 63.95L1137.13 63.91L1135.13 63.88L1133.13 63.85L1131.13 63.82L1129.13 63.8L1127.13 63.78L1125.13 63.77L1123.13 63.76L1121.12 63.76L1119.12 63.76L1117.11 63.76L1115.11 63.76L1113.1 63.77L1111.09 63.78L1109.08 63.8L1107.06 63.83L1105.05 63.86L1103.03 63.89L1101.02 63.93L1099 63.98L1096.97 64.03L1094.95 64.09L1092.92 64.15L1090.9 64.22L1088.86 64.29L1086.83 64.38L1084.79 64.46L1082.75 64.56L1080.71 64.66L1078.67 64.78L1076.62 64.91L1074.57 65.06L1072.53 65.23L1070.48 65.42L1068.44 65.63L1066.41 65.87L1064.37 66.13L1062.35 66.43L1060.33 66.76L1058.31 67.13L1056.31 67.53L1054.31 67.98L1052.32 68.47L1050.35 69L1048.39 69.58L1046.45 70.22L1044.52 70.89L1042.61 71.62L1040.73 72.39L1038.86 73.21L1037.02 74.08L1035.21 75L1033.42 75.96L1031.65 76.97L1029.92 78.02L1028.21 79.12L1026.54 80.27L1024.9 81.46L1023.29 82.7L1021.72 83.98L1020.18 85.31L1018.68 86.68L1017.23 88.1L1015.81 89.56L1014.43 91.06L1013.1 92.61L1011.81 94.18L1010.56 95.8L1009.36 97.45L1008.19 99.12L1007.06 100.83L1005.97 102.56L1004.92 104.32L1003.9 106.1L1002.87 107.88L1001.88 109.69L1000.93 111.51L1000.01 113.36L999.13 115.22L998.28 117.09L997.46 118.98L996.68 120.88L995.93 122.79L995.2 124.72L994.51 126.65L993.85 128.58L993.21 130.53L992.59 132.48L992.01 134.44L991.44 136.41L990.89 138.38L990.37 140.35L989.86 142.33L989.37 144.31L988.9 146.3L988.44 148.28L988 150.27L987.57 152.26L987.15 154.25L986.74 156.24L986.34 158.23L985.95 160.22L985.56 162.21L985.18 164.19L984.8 166.18L984.42 168.16L984.05 170.14L983.69 172.13L983.33 174.11L982.97 176.09L982.62 178.07L982.27 180.05L981.93 182.03L981.59 184.01L981.25 185.99L980.92 187.97L980.59 189.95L980.26 191.92L979.94 193.9L979.62 195.88L979.3 197.85L978.99 199.83L978.68 201.81L978.37 203.78L978.06 205.76L977.76 207.74L977.46 209.71L977.16 211.69L976.87 213.66L976.58 215.64L976.29 217.62L976 219.59L975.71 221.57L975.43 223.54L975.14 225.52L974.86 227.5L974.58 229.47L974.31 231.45L974.03 233.43L973.76 235.41L973.48 237.38L973.21 239.36L972.94 241.34L972.67 243.32L972.4 245.3L972.13 247.28L971.87 249.26L971.6 251.24L971.34 253.22L971.07 255.21L970.81 257.19L970.55 259.17L970.29 261.15L970.03 263.14L969.77 265.12L969.51 267.11L969.26 269.09L969 271.08L968.75 273.06L968.49 275.05L968.24 277.04L967.99 279.02L967.74 281.01L967.49 283L967.24 284.98L966.99 286.97L966.74 288.96L966.5 290.95L966.25 292.94L966.01 294.93L965.76 296.92L965.52 298.91L965.28 300.89L965.03 302.88L964.79 304.88L964.55 306.87L964.31 308.86L964.08 310.85L963.84 312.84L963.6 314.83L963.37 316.82L963.13 318.81L962.9 320.8L962.66 322.8L962.43 324.79L962.2 326.78L961.96 328.77L961.73 330.76L961.5 332.76L961.27 334.75L961.04 336.74L960.81 338.73L960.59 340.73L960.36 342.72L960.13 344.71L959.91 346.7L959.68 348.7L959.46 350.69L959.23 352.68L959.01 354.68L958.78 356.67L958.56 358.66L958.34 360.65L958.12 362.65L957.9 364.64L957.68 366.63L957.46 368.62L957.24 370.62L957.02 372.61L956.8 374.6L956.58 376.59L956.36 378.59L956.15 380.58L955.93 382.57L955.71 384.56L955.5 386.55L955.28 388.54L955.07 390.54L954.85 392.53L954.64 394.52L954.42 396.51L954.21 398.49L953.99 400.48L953.77 402.47L953.56 404.46L953.34 406.44L953.11 408.43L952.89 410.42L952.66 412.4L952.44 414.38L952.21 416.37L951.97 418.35L951.73 420.33L951.49 422.31L951.25 424.29L951 426.27L950.75 428.25L950.49 430.22L950.23 432.2L949.97 434.17L949.7 436.15L949.42 438.12L949.14 440.09L948.85 442.06L948.56 444.03L948.26 446L947.96 447.96L947.64 449.93L947.32 451.89L947 453.86L946.66 455.82L946.32 457.78L945.97 459.74L945.62 461.7L945.25 463.65L944.88 465.61L944.49 467.56L944.1 469.51L943.7 471.46L943.29 473.41L942.87 475.36L942.44 477.3L941.99 479.24L941.54 481.18L941.08 483.11L940.6 485.04L940.11 486.97L939.61 488.89L939.1 490.81L938.57 492.72L938.03 494.63L937.48 496.54L936.91 498.44L936.33 500.33L935.74 502.22L935.13 504.1L934.5 505.98L933.86 507.85L933.21 509.72L932.53 511.58L931.85 513.43L931.14 515.28L930.42 517.12L929.68 518.95L928.92 520.77L928.14 522.59L927.35 524.4L926.54 526.2L925.71 528L924.86 529.78L923.98 531.56L923.09 533.33L922.18 535.08L921.25 536.83L920.28 538.58ZM925.56 538.54L920.31 538.54L922.93 543.09ZM1607.85 374.14L1602.6 374.14L1605.23 378.68Z" fill="#ff00ff" fill-rule="nonzero"/>
</g>
<g class="tk" text-anchor="end">
<text transform="translate(910.2 547.3) scale(1 1.05)">0</text>
<text transform="translate(910.2 481.05) scale(1 1.05)">100</text>
<text transform="translate(910.2 414.8) scale(1 1.05)">200</text>
<text transform="translate(910.2 348.55) scale(1 1.05)">300</text>
<text transform="translate(910.2 282.3) scale(1 1.05)">400</text>
<text transform="translate(910.2 216.05) scale(1 1.05)">500</text>
<text transform="translate(910.2 149.8) scale(1 1.05)">600</text>
<text transform="translate(910.2 83.55) scale(1 1.05)">700</text>
<text transform="translate(910.2 17.3) scale(1 1.05)">800</text>
</g>
<g class="tk" text-anchor="middle">
<text transform="translate(922 568.8) scale(1 1.05)">0</text>
<text transform="translate(1040.42 568.8) scale(1 1.05)">10</text>
<text transform="translate(1158.85 568.8) scale(1 1.05)">20</text>
<text transform="translate(1277.28 568.8) scale(1 1.05)">30</text>
<text transform="translate(1395.7 568.8) scale(1 1.05)">40</text>
<text transform="translate(1514.12 568.8) scale(1 1.05)">50</text>
<text transform="translate(1632.55 568.8) scale(1 1.05)">60</text>
</g>
<text class="ti" text-anchor="middle" transform="translate(853 297) rotate(-90)">Stress(MPa)</text>
<text class="ti" text-anchor="middle" x="1277" y="619.5">Strain(%)</text>
<text class="pl" x="925.8" y="47.1">(b)</text>
<g id="legend-b">
<rect x="1053.5" y="248.5" width="286" height="143" fill="#ffffff" stroke="#3a3a3a" stroke-width="1"/>
<line x1="1068" y1="273.2" x2="1129" y2="273.2" stroke="#000000" stroke-width="1"/>
<rect x="1096.2" y="271.2" width="4" height="4" fill="#000000"/>
<text class="lg" font-size="27.4" x="1136" y="282.6">Casted T43</text>
<line x1="1068" y1="307.45" x2="1129" y2="307.45" stroke="#ff0000" stroke-width="1"/>
<circle cx="1098.2" cy="307.45" r="2.15" fill="#ff0000"/>
<text class="lg" font-size="27.4" x="1136" y="316.85">Forged T43</text>
<line x1="1068" y1="341.7" x2="1129" y2="341.7" stroke="#0000ff" stroke-width="1.1"/>
<path d="M1095.05 343.92 L1101.35 343.92 L1098.2 338.46 Z" fill="#0000ff"/>
<text class="lg" font-size="27.4" x="1136" y="351.1">Casted T43-0.6B</text>
<line x1="1068" y1="375.95" x2="1129" y2="375.95" stroke="#ff00ff" stroke-width="1.3"/>
<path d="M1095.05 373.73 L1101.35 373.73 L1098.2 379.19 Z" fill="#ff00ff"/>
<text class="lg" font-size="27.4" x="1136" y="385.35">Forged T43-0.6B</text>
</g>
</g>
<g id="plot-c">
<clipPath id="clip-c"><rect x="524.6" y="623" width="724.4" height="540.5"/></clipPath>
<rect class="ax" x="524.6" y="623" width="724.4" height="540.5"/>
<path class="ax" d="M615.15 1163.5 v-10.5 M705.7 1163.5 v-10.5 M796.25 1163.5 v-10.5 M886.8 1163.5 v-10.5 M977.35 1163.5 v-10.5 M1067.9 1163.5 v-10.5 M1158.45 1163.5 v-10.5 M569.88 1163.5 v-5.5 M660.42 1163.5 v-5.5 M750.98 1163.5 v-5.5 M841.53 1163.5 v-5.5 M932.08 1163.5 v-5.5 M1022.62 1163.5 v-5.5 M1113.18 1163.5 v-5.5 M1203.72 1163.5 v-5.5 M524.6 1065.23 h10.5 M524.6 966.95 h10.5 M524.6 868.68 h10.5 M524.6 770.41 h10.5 M524.6 672.14 h10.5 M524.6 1114.36 h5.5 M524.6 1016.09 h5.5 M524.6 917.82 h5.5 M524.6 819.55 h5.5 M524.6 721.27 h5.5"/>
<g clip-path="url(#clip-c)">
<path d="M524.6 1163.5L525.44 1157.54L526.29 1151.59L527.12 1145.64L527.96 1139.69L528.79 1133.74L529.61 1127.79L530.43 1121.85L531.25 1115.91L532.06 1109.96L532.88 1104.02L533.68 1098.08L534.49 1092.15L535.29 1086.21L536.08 1080.27L536.88 1074.33L537.67 1068.39L538.45 1062.46L539.24 1056.52L540.02 1050.58L540.8 1044.64L541.57 1038.7L542.35 1032.76L543.12 1026.81L543.89 1020.87L544.65 1014.92L545.42 1008.97L546.18 1003.02L546.93 997.06L547.69 991.11L548.45 985.15L549.2 979.18L549.95 973.22L550.7 967.25L551.45 961.27L552.2 955.3L552.98 949.33L553.78 943.37L554.63 937.41L555.66 931.47L556.83 925.55L558.06 919.65L559.38 913.78L560.79 907.94L562.18 902.12L563.62 896.34L565.18 890.61L566.79 884.91L568.51 879.24L570.29 873.59L572.12 867.93L574.1 862.26L576.13 856.55L578.1 850.79L579.96 844.96L581.82 839.06L583.86 833.09L586.01 827.17L588.45 821.4L590.99 816.07L594.23 811.08L597.35 806.38L601.14 802.39L605.43 799.21L610.08 797.15L615.15 796.54L620.69 797.48L626.1 799.64L631.26 802.74L636.06 806.57L640.53 810.93L644.7 815.63L648.6 820.5L652.27 825.39L655.74 830.29L659.05 835.21L662.24 840.15L665.34 845.11L668.4 850.1L671.44 855.11L674.51 860.16L677.59 865.24L680.67 870.36L683.74 875.5L686.79 880.68L689.81 885.89L692.78 891.14L695.7 896.41L698.55 901.72L701.32 907.06L704.01 912.43L706.59 917.83L709.04 923.27L711.25 928.78L713.05 934.41L714.29 940.21L714.79 946.24L714.64 950.41" fill="none" stroke="#000000" stroke-width="2.4" stroke-linejoin="round"/>
<path d="M526.67 1163.79L526.95 1161.81L527.23 1159.82L527.52 1157.84L527.8 1155.85L528.08 1153.86L528.36 1151.88L528.64 1149.89L528.91 1147.91L529.19 1145.93L529.47 1143.94L529.75 1141.96L530.02 1139.97L530.3 1137.99L530.58 1136.01L530.85 1134.03L531.13 1132.04L531.4 1130.06L531.68 1128.08L531.95 1126.1L532.23 1124.11L532.5 1122.13L532.77 1120.15L533.04 1118.17L533.32 1116.19L533.59 1114.21L533.86 1112.23L534.13 1110.25L534.4 1108.27L534.67 1106.28L534.94 1104.3L535.21 1102.32L535.48 1100.34L535.75 1098.36L536.01 1096.38L536.28 1094.4L536.55 1092.42L536.81 1090.44L537.08 1088.46L537.35 1086.48L537.61 1084.51L537.88 1082.53L538.14 1080.55L538.41 1078.57L538.67 1076.59L538.94 1074.61L539.2 1072.63L539.46 1070.65L539.73 1068.67L539.99 1066.69L540.25 1064.71L540.51 1062.73L540.77 1060.75L541.04 1058.77L541.3 1056.79L541.56 1054.81L541.82 1052.83L542.08 1050.85L542.34 1048.87L542.6 1046.89L542.86 1044.91L543.11 1042.93L543.37 1040.95L543.63 1038.97L543.89 1036.99L544.15 1035L544.4 1033.02L544.66 1031.04L544.92 1029.06L545.17 1027.08L545.43 1025.1L545.69 1023.11L545.94 1021.13L546.2 1019.15L546.45 1017.17L546.71 1015.18L546.96 1013.2L547.21 1011.22L547.47 1009.23L547.72 1007.25L547.98 1005.26L548.23 1003.28L548.48 1001.29L548.73 999.31L548.99 997.32L549.24 995.34L549.49 993.35L549.74 991.37L549.99 989.38L550.25 987.39L550.5 985.4L550.75 983.42L551 981.43L551.25 979.44L551.5 977.45L551.75 975.46L552 973.47L552.25 971.48L552.5 969.49L552.75 967.5L553 965.51L553.25 963.52L553.5 961.53L553.75 959.54L554 957.55L554.26 955.56L554.51 953.57L554.77 951.59L555.04 949.6L555.3 947.62L555.58 945.63L555.85 943.65L556.13 941.67L556.42 939.69L556.71 937.72L557.02 935.78L557.41 933.85L557.79 931.88L558.17 929.91L558.56 927.95L558.96 925.99L559.37 924.03L559.79 922.07L560.21 920.12L560.65 918.17L561.09 916.23L561.54 914.28L562.01 912.35L562.48 910.41L562.97 908.48L563.46 906.52L563.89 904.55L564.35 902.64L564.82 900.72L565.3 898.82L565.8 896.91L566.31 895.02L566.84 893.12L567.38 891.22L567.9 889.31L568.44 887.43L568.99 885.56L569.56 883.68L570.13 881.81L570.72 879.93L571.31 878.05L571.91 876.18L572.51 874.3L573.12 872.42L573.73 870.54L574.34 868.65L574.96 866.81L575.65 864.96L576.33 863.06L577.01 861.16L577.69 859.24L578.36 857.33L579.02 855.4L579.67 853.47L580.32 851.52L580.95 849.57L581.56 847.61L582.17 845.64L582.76 843.66L583.34 841.75L584.04 839.83L584.72 837.83L585.4 835.84L586.09 833.87L586.79 831.9L587.5 829.96L588.24 828.04L589.01 826.14L589.82 824.27L590.68 822.39L591.46 820.6L592.3 818.92L593.19 817.28L594.15 815.69L595.18 814.15L596.37 812.49L597.35 810.8L598.34 809.37L599.39 808L600.5 806.7L601.66 805.48L602.86 804.35L604.12 803.29L605.43 802.28L606.73 801.39L608.05 800.6L609.38 799.92L610.73 799.35L612.09 798.88L613.43 798.5L615.06 798.47L616.73 798.76L618.39 799.17L620.05 799.68L621.7 800.31L623.35 801.03L624.99 801.86L626.61 802.77L628.21 803.77L629.78 804.85L631.32 806.01L632.84 807.23L634.33 808.52L635.79 809.87L637.22 811.28L638.63 812.73L640.01 814.22L641.37 815.75L642.7 817.3L644.01 818.88L645.29 820.48L646.54 822.08L647.78 823.69L648.99 825.3L650.18 826.91L651.34 828.52L652.49 830.14L653.62 831.75L654.73 833.37L655.83 835L656.91 836.62L657.98 838.25L659.04 839.88L660.08 841.52L661.12 843.16L662.15 844.8L663.18 846.45L664.2 848.1L665.21 849.76L666.23 851.42L667.24 853.09L668.26 854.76L669.27 856.43L670.29 858.11L671.31 859.8L672.34 861.48L673.36 863.17L674.39 864.86L675.41 866.56L676.44 868.26L677.46 869.96L678.49 871.66L679.51 873.37L680.54 875.08L681.56 876.8L682.58 878.52L683.59 880.24L684.6 881.96L685.61 883.69L686.62 885.42L687.62 887.15L688.61 888.89L689.6 890.63L690.58 892.37L691.56 894.11L692.53 895.86L693.5 897.62L694.45 899.37L695.4 901.13L696.34 902.89L697.27 904.65L698.19 906.42L699.11 908.19L700.01 909.96L700.9 911.74L701.78 913.52L702.65 915.3L703.51 917.08L704.36 918.87L705.19 920.66L706.01 922.45L706.81 924.23L707.58 926.02L708.32 927.8L709.02 929.59L709.68 931.39L710.3 933.19L710.86 935L711.37 936.83L711.82 938.67L712.2 940.53L712.52 942.41L712.76 944.32L712.92 946.27L712.86 948.24L712.69 950.29L716.6 950.52L716.68 948.37L716.67 946.21L716.67 944.08L716.57 941.98L716.37 939.9L716.07 937.85L715.7 935.82L715.24 933.82L714.71 931.84L714.12 929.89L713.48 927.97L712.78 926.06L712.05 924.18L711.27 922.31L710.47 920.46L709.65 918.62L708.82 916.79L707.97 914.97L707.1 913.16L706.23 911.34L705.34 909.53L704.45 907.73L703.54 905.93L702.62 904.13L701.7 902.34L700.76 900.55L699.82 898.77L698.86 896.99L697.9 895.21L696.93 893.44L695.96 891.67L694.98 889.91L693.99 888.15L693 886.39L692 884.64L690.99 882.89L689.98 881.15L688.97 879.41L687.96 877.67L686.94 875.94L685.92 874.21L684.89 872.49L683.87 870.77L682.84 869.05L681.82 867.34L680.79 865.63L679.76 863.93L678.73 862.23L677.71 860.54L676.68 858.85L675.66 857.16L674.64 855.48L673.62 853.8L672.6 852.12L671.59 850.45L670.57 848.78L669.55 847.11L668.53 845.44L667.51 843.77L666.48 842.11L665.44 840.44L664.39 838.78L663.34 837.12L662.27 835.46L661.19 833.8L660.09 832.15L658.98 830.49L657.86 828.83L656.71 827.18L655.54 825.52L654.36 823.87L653.15 822.21L651.91 820.56L650.65 818.91L649.36 817.26L648.05 815.6L646.7 813.96L645.31 812.33L643.89 810.71L642.43 809.13L640.93 807.58L639.39 806.08L637.8 804.62L636.16 803.22L634.48 801.89L632.74 800.64L630.95 799.46L629.11 798.39L627.22 797.42L625.29 796.57L623.32 795.85L621.32 795.28L619.3 794.87L617.27 794.65L615.24 794.61L613.18 794.58L611.28 794.63L609.44 794.94L607.62 795.46L605.85 796.16L604.13 797.03L602.47 798.06L600.91 799.21L599.41 800.42L597.97 801.77L596.6 803.22L595.32 804.77L594.12 806.4L593.03 808.1L592.08 809.68L590.94 811.25L589.82 813.03L588.79 814.85L587.86 816.7L587 818.58L586.22 820.41L585.36 822.33L584.55 824.32L583.78 826.31L583.04 828.32L582.33 830.32L581.64 832.32L580.96 834.32L580.28 836.31L579.59 838.28L578.91 840.32L578.35 842.35L577.75 844.29L577.14 846.22L576.51 848.14L575.88 850.06L575.23 851.97L574.57 853.87L573.91 855.77L573.24 857.67L572.56 859.56L571.88 861.46L571.19 863.35L570.51 865.28L569.9 867.22L569.29 869.1L568.68 870.99L568.08 872.88L567.48 874.77L566.88 876.66L566.29 878.56L565.71 880.46L565.15 882.36L564.59 884.26L564.04 886.18L563.51 888.09L562.99 890L562.45 891.91L561.94 893.84L561.44 895.78L560.95 897.72L560.47 899.66L560.01 901.61L559.57 903.56L559.12 905.47L558.62 907.39L558.14 909.35L557.67 911.31L557.22 913.28L556.77 915.25L556.34 917.22L555.91 919.19L555.5 921.16L555.09 923.14L554.69 925.12L554.3 927.1L553.91 929.09L553.54 931.07L553.17 933.06L552.82 935.08L552.55 937.11L552.27 939.1L551.99 941.09L551.72 943.08L551.45 945.07L551.18 947.06L550.92 949.06L550.66 951.05L550.4 953.04L550.15 955.04L549.9 957.03L549.65 959.02L549.4 961.02L549.15 963.01L548.9 965L548.65 966.99L548.4 968.98L548.15 970.97L547.9 972.96L547.65 974.95L547.4 976.94L547.15 978.92L546.9 980.91L546.65 982.9L546.39 984.89L546.14 986.87L545.89 988.86L545.64 990.85L545.39 992.83L545.14 994.82L544.88 996.8L544.63 998.79L544.38 1000.77L544.12 1002.76L543.87 1004.74L543.62 1006.72L543.36 1008.71L543.11 1010.69L542.85 1012.67L542.6 1014.65L542.34 1016.64L542.09 1018.62L541.83 1020.6L541.58 1022.58L541.32 1024.56L541.06 1026.55L540.81 1028.53L540.55 1030.51L540.29 1032.49L540.03 1034.47L539.78 1036.45L539.52 1038.43L539.26 1040.41L539 1042.39L538.74 1044.37L538.48 1046.35L538.22 1048.33L537.96 1050.31L537.7 1052.29L537.44 1054.27L537.18 1056.25L536.92 1058.23L536.66 1060.21L536.4 1062.18L536.13 1064.16L535.87 1066.14L535.61 1068.12L535.34 1070.1L535.08 1072.08L534.82 1074.06L534.55 1076.04L534.29 1078.02L534.02 1079.99L533.76 1081.97L533.49 1083.95L533.22 1085.93L532.96 1087.91L532.69 1089.89L532.42 1091.87L532.16 1093.85L531.89 1095.83L531.62 1097.8L531.35 1099.78L531.08 1101.76L530.81 1103.74L530.54 1105.72L530.27 1107.7L530 1109.68L529.73 1111.66L529.46 1113.64L529.19 1115.62L528.91 1117.6L528.64 1119.58L528.37 1121.56L528.09 1123.54L527.82 1125.52L527.54 1127.51L527.27 1129.49L526.99 1131.47L526.72 1133.45L526.44 1135.43L526.17 1137.41L525.89 1139.4L525.61 1141.38L525.33 1143.36L525.05 1145.35L524.78 1147.33L524.5 1149.31L524.22 1151.3L523.94 1153.28L523.66 1155.26L523.37 1157.25L523.09 1159.23L522.81 1161.22L522.53 1163.21ZM522.75 1165.35L526.45 1165.35L526.45 1161.65L522.75 1161.65ZM712.79 952.26L716.49 952.26L716.49 948.56L712.79 948.56Z" fill="#000000" fill-rule="nonzero"/>
<path d="M524.91 1163L525.72 1161.17L526.51 1159.33L527.27 1157.49L528.01 1155.64L528.73 1153.78L529.43 1151.91L530.11 1150.04L530.77 1148.17L531.41 1146.29L532.02 1144.4L532.62 1142.5L533.2 1140.6L533.76 1138.7L534.3 1136.79L534.82 1134.88L535.32 1132.96L535.81 1131.03L536.28 1129.1L536.73 1127.17L537.17 1125.23L537.6 1123.29L538 1121.34L538.39 1119.39L538.77 1117.43L539.14 1115.47L539.49 1113.51L539.82 1111.54L540.15 1109.58L540.49 1107.6L540.83 1105.63L541.15 1103.65L541.46 1101.67L541.76 1099.68L542.05 1097.7L542.33 1095.71L542.6 1093.71L542.86 1091.72L543.11 1089.72L543.36 1087.73L543.59 1085.73L543.82 1083.73L544.04 1081.72L544.25 1079.72L544.46 1077.71L544.66 1075.71L544.86 1073.7L545.05 1071.69L545.23 1069.68L545.41 1067.67L545.59 1065.66L545.76 1063.65L545.93 1061.64L546.1 1059.63L546.26 1057.62L546.42 1055.61L546.58 1053.6L546.74 1051.59L546.9 1049.58L547.06 1047.57L547.21 1045.56L547.37 1043.56L547.53 1041.55L547.69 1039.55L547.85 1037.54L548.01 1035.54L548.17 1033.54L548.34 1031.55L548.51 1029.55L548.68 1027.56L548.85 1025.56L549.03 1023.57L549.21 1021.58L549.39 1019.59L549.57 1017.61L549.75 1015.62L549.94 1013.64L550.13 1011.65L550.32 1009.67L550.51 1007.69L550.71 1005.71L550.9 1003.73L551.1 1001.75L551.3 999.77L551.5 997.8L551.7 995.82L551.91 993.84L552.11 991.87L552.32 989.89L552.53 987.92L552.74 985.95L552.95 983.97L553.17 982L553.38 980.03L553.6 978.06L553.81 976.08L554.03 974.11L554.25 972.14L554.47 970.17L554.69 968.2L554.92 966.22L555.14 964.25L555.36 962.28L555.59 960.31L555.81 958.33L556.03 956.36L556.25 954.39L556.47 952.41L556.69 950.44L556.91 948.46L557.13 946.48L557.35 944.51L557.58 942.53L557.8 940.55L558.02 938.57L558.25 936.59L558.47 934.61L558.7 932.63L558.92 930.64L559.15 928.66L559.37 926.67L559.6 924.69L559.83 922.7L560.05 920.71L560.28 918.72L560.5 916.72L560.73 914.73L560.96 912.73L561.18 910.74L561.41 908.74L561.63 906.74L561.86 904.73L562.08 902.73L562.31 900.72L562.53 898.71L562.75 896.7L562.98 894.69L563.2 892.67L563.42 890.66L563.64 888.64L563.86 886.62L564.08 884.59L564.3 882.56L564.52 880.54L564.74 878.5L564.95 876.47L565.17 874.43L565.38 872.39L565.6 870.35L565.81 868.31L566.02 866.26L566.24 864.21L566.45 862.16L566.68 860.11L566.91 858.06L567.15 856.02L567.41 853.98L567.68 851.95L567.97 849.92L568.28 847.9L568.61 845.89L568.97 843.89L569.35 841.9L569.76 839.92L570.21 837.96L570.69 836.01L571.2 834.08L571.76 832.16L572.35 830.27L572.99 828.39L573.63 826.47L574.32 824.56L575.06 822.68L575.85 820.83L576.7 819L577.6 817.2L578.56 815.43L579.58 813.69L580.65 811.99L581.78 810.33L582.96 808.72L584.2 807.17L585.51 805.65L586.88 804.2L588.3 802.81L589.77 801.49L591.29 800.24L592.86 799.07L594.47 797.97L596.13 796.96L597.83 796.03L599.62 795.3L601.45 794.66L603.31 794.09L605.19 793.6L607.11 793.19L609.05 792.86L611.01 792.6L613 792.43L614.98 792.32L616.98 792.29L618.99 792.33L621.01 792.43L623.03 792.59L625.07 792.81L627.11 793.08L629.16 793.4L631.2 793.77L633.25 794.17L635.3 794.6L637.34 795.07L639.38 795.56L641.39 796.05L643.38 796.55L645.37 797.07L647.36 797.6L649.33 798.15L651.29 798.71L653.25 799.28L655.19 799.86L657.13 800.45L659.07 801.05L661 801.67L662.92 802.29L664.83 802.92L666.74 803.57L668.64 804.22L670.54 804.88L672.44 805.54L674.33 806.22L676.21 806.9L678.1 807.58L679.98 808.28L681.85 808.95L683.73 809.63L685.6 810.32L687.47 811.01L689.34 811.7L691.21 812.4L693.07 813.1L694.94 813.81L696.81 814.51L698.67 815.22L700.54 815.93L702.4 816.65L704.27 817.37L706.13 818.09L707.99 818.81L709.85 819.53L711.72 820.26L713.58 820.99L715.44 821.73L717.3 822.46L719.16 823.2L721.01 823.94L722.87 824.69L724.73 825.43L726.58 826.18L728.44 826.93L730.29 827.69L732.15 828.44L734 829.2L735.85 829.96L737.7 830.73L739.55 831.5L741.4 832.26L743.25 833.04L745.1 833.81L746.95 834.59L748.79 835.37L750.64 836.15L752.48 836.93L754.32 837.72L756.17 838.5L758.01 839.3L759.85 840.09L761.69 840.88L763.52 841.68L765.36 842.48L767.2 843.28L769.03 844.09L770.86 844.9L772.7 845.71L774.53 846.52L776.36 847.33L778.19 848.15L780.01 848.96L781.84 849.78L783.67 850.61L785.49 851.43L787.31 852.26L789.14 853.09L790.96 853.92L792.77 854.75L794.59 855.59L796.41 856.42L798.22 857.26L800.04 858.1L801.85 858.95L803.66 859.79L805.48 860.64L807.29 861.49L809.1 862.34L810.9 863.19L812.71 864.05L814.52 864.9L816.32 865.76L818.13 866.62L819.93 867.48L821.73 868.35L823.53 869.21L825.33 870.08L827.13 870.95L828.93 871.82L830.73 872.69L832.53 873.56L834.32 874.44L836.12 875.31L837.92 876.19L839.71 877.07L841.5 877.95L843.3 878.83L845.09 879.72L846.88 880.6L848.67 881.49L850.47 882.37L852.26 883.26L854.05 884.15L855.84 885.04L857.62 885.94L859.41 886.83L861.2 887.73L862.99 888.62L864.78 889.52L866.56 890.42L868.35 891.32L870.14 892.22L871.92 893.12L873.71 894.02L875.49 894.93L877.28 895.83L879.06 896.74L880.85 897.65L882.63 898.55L884.42 899.46L886.2 900.37L887.98 901.28L889.77 902.19L891.55 903.1L893.34 904.02L895.12 904.93L896.9 905.84L898.69 906.76L900.47 907.67L902.25 908.59L904.04 909.51L905.82 910.42L907.61 911.34L909.39 912.26L911.18 913.18L912.96 914.1L914.74 915.02L916.53 915.94L918.31 916.86L920.1 917.78L921.88 918.71L923.67 919.63L925.45 920.56L927.24 921.48L929.02 922.41L930.8 923.34L932.58 924.27L934.36 925.21L936.14 926.15L937.91 927.09L939.69 928.03L941.46 928.97L943.23 929.92L945 930.87L946.77 931.83L948.53 932.79L950.29 933.75L952.05 934.72L953.81 935.69L955.56 936.67L957.31 937.65L959.06 938.63L960.8 939.63L962.54 940.62L964.27 941.62L966.01 942.63L967.73 943.64L969.46 944.66L971.18 945.68L972.89 946.71L974.6 947.75L976.31 948.8L978.01 949.85L979.7 950.9L981.39 951.97L983.08 953.04L984.76 954.12L986.43 955.21L988.1 956.3L989.76 957.41L991.42 958.52L993.06 959.64L994.71 960.77L996.34 961.91L997.97 963.05L999.6 964.21L1001.21 965.38L1002.82 966.55L1004.42 967.74L1006.02 968.93L1007.61 970.14L1009.19 971.35L1010.76 972.57L1012.32 973.8L1013.88 975.04L1015.44 976.29L1016.98 977.55L1018.52 978.82L1020.05 980.09L1021.58 981.38L1023.1 982.67L1024.61 983.97L1026.11 985.27L1027.61 986.59L1029.11 987.91L1030.59 989.24L1032.07 990.58L1033.55 991.93L1035.01 993.28L1036.47 994.64L1037.93 996.01L1039.38 997.38L1040.82 998.76L1042.26 1000.15L1043.69 1001.55L1045.11 1002.95L1046.53 1004.35L1047.95 1005.77L1049.35 1007.18L1050.76 1008.61L1052.15 1010.04L1053.54 1011.48L1054.93 1012.92L1056.31 1014.37L1057.68 1015.82L1059.05 1017.27L1060.42 1018.74L1061.78 1020.2L1063.13 1021.68L1064.48 1023.15L1065.82 1024.64L1067.16 1026.12L1068.49 1027.61L1069.82 1029.11L1071.14 1030.6L1072.46 1032.11L1073.77 1033.61L1075.08 1035.12L1076.39 1036.64L1077.68 1038.15L1078.98 1039.67L1080.27 1041.2L1081.56 1042.72L1082.84 1044.25L1084.12 1045.78L1085.39 1047.32L1086.66 1048.86L1087.93 1050.39L1089.2 1051.94L1090.46 1053.48L1091.72 1055.03L1092.98 1056.57L1094.24 1058.12L1095.49 1059.67L1096.74 1061.22L1097.99 1062.78L1099.24 1064.33L1100.49 1065.89L1101.74 1067.44L1102.98 1069L1104.23 1070.56L1105.47 1072.12L1106.72 1073.67L1107.96 1075.23L1109.21 1076.79L1110.45 1078.35L1111.7 1079.91L1112.94 1081.47L1114.19 1083.02L1115.44 1084.58L1116.69 1086.14L1117.94 1087.69L1119.19 1089.24L1120.45 1090.8L1121.7 1092.35L1122.96 1093.9L1124.22 1095.45L1125.49 1096.99L1126.75 1098.54L1128.02 1100.08L1129.29 1101.62L1130.57 1103.16L1131.85 1104.69L1133.13 1106.23L1134.42 1107.76L1135.71 1109.29L1137.01 1110.81L1138.31 1112.33L1139.61 1113.85L1140.92 1115.37L1142.24 1116.88L1143.56 1118.39L1144.89 1119.89L1146.22 1121.39L1147.56 1122.89L1148.9 1124.38L1150.25 1125.87L1151.61 1127.35L1152.97 1128.83L1154.34 1130.3L1155.72 1131.77L1157.1 1133.23L1158.49 1134.69L1159.27 1136.54L1160.09 1138.38L1160.96 1140.19L1161.87 1141.98L1162.84 1143.73L1163.86 1145.45L1164.94 1147.13L1166.08 1148.75L1167.29 1150.33L1168.56 1151.84L1169.9 1153.29L1171.32 1154.67L1172.82 1155.97L1174.39 1157.19L1176.05 1158.32L1177.79 1159.36L1179.63 1160.29L1181.56 1161.13" fill="none" stroke="#ff0000" stroke-width="4.4" stroke-linecap="round" stroke-linejoin="round"/>
<path d="M524.89 1163.5L525.78 1157.55L526.68 1151.6L527.6 1145.65L528.53 1139.71L529.47 1133.77L530.43 1127.84L531.39 1121.9L532.36 1115.97L533.34 1110.03L534.32 1104.1L535.3 1098.17L536.29 1092.24L537.28 1086.31L538.27 1080.38L539.26 1074.45L540.24 1068.52L541.22 1062.59L542.19 1056.66L543.16 1050.73L544.12 1044.79L545.07 1038.86L546.01 1032.92L546.94 1026.98L547.85 1021.04L548.76 1015.1L549.66 1009.15L550.55 1003.2L551.43 997.25L552.3 991.3L553.17 985.35L554.03 979.4L554.89 973.45L555.74 967.49L556.59 961.54L557.43 955.58L558.28 949.62L559.12 943.67L559.96 937.71L560.8 931.75L561.64 925.79L562.49 919.84L563.33 913.88L564.18 907.92L565.03 901.97L565.89 896.01L566.75 890.05L567.62 884.1L568.5 878.15L569.38 872.19L570.27 866.24L571.17 860.29L572.07 854.34L572.99 848.39L573.92 842.45L574.86 836.5L575.81 830.56L576.78 824.62L577.76 818.68L578.75 812.74L579.77 806.81L580.8 800.88L581.86 794.96L582.95 789.04L584.07 783.13L585.22 777.23L586.42 771.35L587.65 765.47L588.93 759.6L590.26 753.75L591.64 747.91L593.07 742.09L594.57 736.28L596.12 730.5L597.74 724.73L599.43 718.98L601.2 713.25L603.03 707.54L604.95 701.86L606.95 696.2L609.03 690.57L611.21 684.97L613.47 679.39L615.83 673.84L618.29 668.32L619.99 664.66" fill="none" stroke="#0000ff" stroke-width="2.4" stroke-linejoin="round"/>
<path d="M527.46 1163.88L527.75 1161.9L528.05 1159.92L528.35 1157.93L528.65 1155.95L528.95 1153.97L529.25 1151.99L529.55 1150.01L529.86 1148.03L530.16 1146.05L530.47 1144.07L530.78 1142.1L531.09 1140.12L531.41 1138.14L531.72 1136.16L532.03 1134.18L532.35 1132.2L532.67 1130.23L532.99 1128.25L533.31 1126.27L533.63 1124.29L533.95 1122.32L534.27 1120.34L534.59 1118.36L534.92 1116.39L535.24 1114.41L535.57 1112.43L535.89 1110.46L536.22 1108.48L536.55 1106.5L536.87 1104.53L537.2 1102.55L537.53 1100.57L537.86 1098.6L538.19 1096.62L538.52 1094.64L538.84 1092.67L539.17 1090.69L539.5 1088.71L539.83 1086.74L540.16 1084.76L540.49 1082.79L540.82 1080.81L541.15 1078.83L541.48 1076.85L541.81 1074.88L542.14 1072.9L542.47 1070.92L542.79 1068.95L543.12 1066.97L543.45 1064.99L543.77 1063.01L544.1 1061.04L544.43 1059.06L544.75 1057.08L545.07 1055.1L545.4 1053.12L545.72 1051.14L546.04 1049.16L546.36 1047.19L546.68 1045.21L547 1043.23L547.31 1041.25L547.63 1039.27L547.95 1037.29L548.26 1035.3L548.57 1033.32L548.88 1031.34L549.19 1029.36L549.5 1027.38L549.81 1025.4L550.11 1023.41L550.42 1021.43L550.72 1019.45L551.02 1017.47L551.33 1015.48L551.63 1013.5L551.93 1011.52L552.22 1009.54L552.52 1007.55L552.82 1005.57L553.11 1003.58L553.41 1001.6L553.7 999.62L554 997.63L554.29 995.65L554.58 993.66L554.87 991.68L555.16 989.69L555.45 987.71L555.74 985.73L556.03 983.74L556.31 981.76L556.6 979.77L556.89 977.79L557.17 975.8L557.46 973.82L557.74 971.83L558.03 969.84L558.31 967.86L558.59 965.87L558.88 963.89L559.16 961.9L559.44 959.92L559.72 957.93L560 955.95L560.29 953.96L560.57 951.97L560.85 949.99L561.13 948L561.41 946.02L561.69 944.03L561.97 942.04L562.25 940.06L562.53 938.07L562.81 936.09L563.09 934.1L563.37 932.12L563.65 930.13L563.94 928.14L564.22 926.16L564.5 924.17L564.78 922.19L565.06 920.2L565.34 918.22L565.62 916.23L565.91 914.25L566.19 912.26L566.47 910.28L566.75 908.29L567.04 906.3L567.32 904.32L567.61 902.33L567.89 900.35L568.18 898.37L568.46 896.38L568.75 894.4L569.04 892.41L569.32 890.43L569.61 888.44L569.9 886.46L570.19 884.48L570.48 882.49L570.77 880.51L571.06 878.52L571.36 876.54L571.65 874.56L571.95 872.57L572.24 870.59L572.54 868.61L572.83 866.63L573.13 864.64L573.43 862.66L573.73 860.68L574.03 858.7L574.33 856.72L574.64 854.73L574.94 852.75L575.25 850.77L575.55 848.79L575.86 846.81L576.17 844.83L576.48 842.85L576.79 840.87L577.11 838.89L577.42 836.91L577.74 834.93L578.05 832.95L578.37 830.97L578.69 828.99L579.01 827.01L579.34 825.04L579.66 823.06L579.99 821.08L580.31 819.1L580.64 817.13L580.97 815.15L581.31 813.17L581.64 811.2L581.98 809.22L582.32 807.25L582.66 805.28L583 803.3L583.35 801.33L583.7 799.36L584.05 797.39L584.4 795.42L584.76 793.45L585.12 791.48L585.49 789.52L585.85 787.55L586.22 785.59L586.6 783.62L586.98 781.66L587.36 779.7L587.75 777.74L588.14 775.78L588.53 773.82L588.93 771.86L589.34 769.91L589.75 767.96L590.16 766L590.58 764.05L591 762.11L591.43 760.16L591.87 758.21L592.3 756.27L592.75 754.33L593.2 752.39L593.66 750.45L594.12 748.51L594.59 746.57L595.06 744.64L595.54 742.71L596.03 740.78L596.52 738.85L597.02 736.93L597.53 735.01L598.04 733.08L598.56 731.17L599.09 729.25L599.63 727.33L600.17 725.42L600.72 723.51L601.28 721.61L601.84 719.7L602.42 717.8L603 715.9L603.59 714L604.18 712.11L604.79 710.21L605.4 708.32L606.02 706.44L606.66 704.55L607.3 702.67L607.95 700.79L608.6 698.92L609.27 697.04L609.95 695.17L610.63 693.3L611.33 691.44L612.03 689.58L612.75 687.72L613.47 685.86L614.21 684.01L614.95 682.16L615.71 680.32L616.47 678.47L617.25 676.64L618.04 674.8L618.84 672.97L619.64 671.14L620.46 669.31L621.29 667.49L622.14 665.66L617.83 663.65L616.97 665.49L616.12 667.33L615.28 669.17L614.44 671.02L613.62 672.88L612.82 674.73L612.02 676.59L611.23 678.46L610.46 680.32L609.69 682.19L608.94 684.07L608.19 685.94L607.46 687.82L606.74 689.7L606.02 691.59L605.32 693.47L604.63 695.36L603.94 697.26L603.27 699.15L602.6 701.05L601.95 702.95L601.3 704.86L600.67 706.76L600.04 708.67L599.42 710.58L598.81 712.5L598.21 714.41L597.61 716.33L597.03 718.25L596.45 720.18L595.88 722.1L595.32 724.03L594.77 725.96L594.22 727.89L593.68 729.82L593.15 731.76L592.63 733.7L592.11 735.64L591.6 737.58L591.1 739.52L590.61 741.47L590.12 743.41L589.63 745.36L589.16 747.31L588.69 749.26L588.22 751.22L587.77 753.17L587.31 755.13L586.87 757.09L586.43 759.05L585.99 761.01L585.56 762.97L585.14 764.93L584.72 766.89L584.31 768.86L583.9 770.83L583.49 772.79L583.09 774.76L582.7 776.73L582.31 778.7L581.92 780.67L581.54 782.65L581.16 784.62L580.78 786.59L580.41 788.57L580.04 790.54L579.68 792.52L579.32 794.5L578.96 796.48L578.61 798.45L578.26 800.43L577.91 802.41L577.56 804.39L577.22 806.37L576.88 808.35L576.54 810.33L576.2 812.31L575.87 814.29L575.53 816.27L575.2 818.25L574.88 820.24L574.55 822.22L574.22 824.2L573.9 826.18L573.58 828.16L573.25 830.15L572.94 832.13L572.62 834.11L572.3 836.09L571.98 838.08L571.67 840.06L571.36 842.04L571.05 844.03L570.74 846.01L570.43 847.99L570.12 849.98L569.81 851.96L569.51 853.95L569.2 855.93L568.9 857.92L568.6 859.9L568.3 861.88L568 863.87L567.7 865.85L567.4 867.84L567.1 869.82L566.81 871.81L566.51 873.8L566.22 875.78L565.93 877.77L565.63 879.75L565.34 881.74L565.05 883.72L564.76 885.71L564.47 887.69L564.18 889.68L563.89 891.67L563.61 893.65L563.32 895.64L563.03 897.62L562.75 899.61L562.46 901.6L562.18 903.58L561.89 905.57L561.61 907.56L561.33 909.54L561.04 911.53L560.76 913.51L560.48 915.5L560.19 917.49L559.91 919.47L559.63 921.46L559.35 923.44L559.07 925.43L558.79 927.42L558.51 929.4L558.23 931.39L557.95 933.37L557.67 935.36L557.39 937.35L557.1 939.33L556.82 941.32L556.54 943.3L556.26 945.29L555.98 947.27L555.7 949.26L555.42 951.25L555.14 953.23L554.86 955.22L554.58 957.2L554.3 959.19L554.01 961.17L553.73 963.16L553.45 965.14L553.16 967.12L552.88 969.11L552.6 971.09L552.31 973.08L552.03 975.06L551.74 977.05L551.46 979.03L551.17 981.01L550.88 983L550.6 984.98L550.31 986.96L550.02 988.95L549.73 990.93L549.44 992.91L549.15 994.89L548.86 996.87L548.57 998.86L548.27 1000.84L547.98 1002.82L547.68 1004.8L547.39 1006.78L547.09 1008.76L546.79 1010.74L546.49 1012.73L546.19 1014.71L545.89 1016.69L545.59 1018.67L545.29 1020.65L544.98 1022.62L544.68 1024.6L544.37 1026.58L544.07 1028.56L543.76 1030.54L543.45 1032.52L543.14 1034.5L542.82 1036.47L542.51 1038.45L542.2 1040.43L541.88 1042.41L541.56 1044.38L541.24 1046.36L540.92 1048.34L540.6 1050.31L540.28 1052.29L539.96 1054.27L539.64 1056.24L539.31 1058.22L538.99 1060.2L538.66 1062.17L538.34 1064.15L538.01 1066.12L537.68 1068.1L537.36 1070.08L537.03 1072.05L536.7 1074.03L536.37 1076L536.04 1077.98L535.71 1079.96L535.38 1081.93L535.06 1083.91L534.73 1085.89L534.4 1087.86L534.07 1089.84L533.74 1091.82L533.41 1093.79L533.08 1095.77L532.75 1097.75L532.42 1099.72L532.09 1101.7L531.76 1103.68L531.44 1105.66L531.11 1107.63L530.78 1109.61L530.45 1111.59L530.13 1113.57L529.8 1115.55L529.48 1117.53L529.16 1119.5L528.83 1121.48L528.51 1123.46L528.19 1125.44L527.87 1127.42L527.55 1129.4L527.23 1131.38L526.92 1133.36L526.6 1135.35L526.28 1137.33L525.97 1139.31L525.66 1141.29L525.35 1143.27L525.04 1145.26L524.73 1147.24L524.42 1149.22L524.12 1151.21L523.82 1153.19L523.51 1155.18L523.21 1157.16L522.92 1159.15L522.62 1161.13L522.32 1163.12ZM522.05 1164.98L527.3 1164.98L524.67 1160.44ZM616.78 665.9L622.03 665.9L619.41 661.35Z" fill="#0000ff" fill-rule="nonzero"/>
<path d="M524.9 1163L525.62 1157.07L526.35 1151.13L527.08 1145.19L527.82 1139.24L528.56 1133.29L529.31 1127.33L530.05 1121.37L530.8 1115.4L531.55 1109.43L532.3 1103.46L533.04 1097.48L533.79 1091.5L534.52 1085.52L535.26 1079.54L535.99 1073.55L536.72 1067.57L537.44 1061.58L538.15 1055.59L538.85 1049.6L539.54 1043.61L540.23 1037.62L540.9 1031.63L541.56 1025.64L542.21 1019.66L542.85 1013.67L543.47 1007.69L544.07 1001.71L544.66 995.73L545.24 989.75L545.79 983.78L546.33 977.81L546.85 971.84L547.34 965.88L547.82 959.92L548.29 953.96L548.74 948.01L549.19 942.06L549.65 936.11L550.1 930.16L550.63 924.21L551.16 918.25L551.73 912.3L552.32 906.34L552.94 900.38L553.6 894.42L554.31 888.44L555.07 882.47L555.88 876.48L556.76 870.49L557.7 864.49L558.71 858.48L559.8 852.46L560.98 846.42L562.24 840.38L563.59 834.32L564.94 828.19L566.48 822.12L568.33 816.23L570.59 810.6L573.34 805.31L576.62 800.45L580.37 796.09L584.37 792.31L588.69 789.17L593.39 786.76L598.45 785.13L603.78 784.23L609.81 784.11L615.98 784.51L622.22 785.31L628.46 786.4L634.62 787.69L640.7 789.12L646.71 790.68L652.66 792.37L658.54 794.18L664.38 796.1L670.16 798.11L675.92 800.19L681.64 802.34L687.34 804.54L693.02 806.77L698.69 809.03L704.29 811.28L709.86 813.53L715.41 815.8L720.96 818.09L726.49 820.4L732.02 822.73L737.55 825.08L743.06 827.45L748.57 829.83L754.07 832.24L759.56 834.65L765.05 837.09L770.53 839.54L776 842.01L781.46 844.49L786.93 846.98L792.38 849.5L797.83 852.02L803.27 854.56L808.71 857.11L814.14 859.67L819.57 862.25L825 864.83L830.41 867.43L835.83 870.04L841.24 872.66L846.64 875.29L852.05 877.93L857.44 880.58L862.84 883.24L868.23 885.9L873.62 888.57L879 891.25L884.38 893.94L889.76 896.63L895.14 899.33L900.52 902.04L905.89 904.75L911.26 907.47L916.63 910.19L922 912.91L927.36 915.64L932.73 918.37L938.09 921.1L943.46 923.83L948.82 926.57L954.17 929.32L959.52 932.08L964.86 934.85L970.19 937.64L975.51 940.45L980.82 943.28L986.1 946.14L991.37 949.03L996.61 951.95L1001.83 954.91L1007.03 957.91L1012.2 960.95L1017.34 964.03L1022.44 967.17L1027.52 970.35L1032.55 973.6L1037.55 976.9L1042.51 980.26L1047.42 983.69L1052.3 987.18L1057.12 990.75L1061.9 994.39L1066.62 998.1L1071.29 1001.9L1075.92 1005.76L1080.5 1009.68L1085.04 1013.66L1089.54 1017.69L1094.01 1021.76L1098.44 1025.87L1102.85 1030L1107.22 1034.15L1111.58 1038.32L1115.91 1042.5L1120.23 1046.67L1124.53 1050.84L1128.82 1055L1132.45 1059.6L1133.95 1065.42L1134.74 1071.45L1135.47 1077.48L1136.28 1083.45L1137.16 1089.36L1138.08 1095.25L1139.01 1101.12L1139.94 1107.01L1140.84 1112.92L1141.68 1118.87L1142.45 1124.89L1143.1 1130.98L1143.74 1137.11L1144.54 1143.17L1145.72 1149.02L1147.47 1154.56L1150.07 1159.58L1153.74 1160.89" fill="none" stroke="#ff00ff" stroke-width="2.4" stroke-linejoin="round"/>
<path d="M527.49 1163.31L527.73 1161.34L527.97 1159.36L528.21 1157.38L528.45 1155.41L528.69 1153.43L528.94 1151.45L529.18 1149.47L529.42 1147.49L529.67 1145.51L529.92 1143.53L530.16 1141.54L530.41 1139.56L530.65 1137.58L530.9 1135.59L531.15 1133.61L531.4 1131.62L531.64 1129.64L531.89 1127.65L532.14 1125.67L532.39 1123.68L532.64 1121.69L532.89 1119.7L533.14 1117.71L533.39 1115.72L533.64 1113.73L533.89 1111.74L534.13 1109.75L534.38 1107.76L534.63 1105.77L534.88 1103.78L535.13 1101.79L535.38 1099.8L535.63 1097.8L535.87 1095.81L536.12 1093.82L536.37 1091.82L536.62 1089.83L536.86 1087.83L537.11 1085.84L537.36 1083.85L537.6 1081.85L537.85 1079.85L538.09 1077.86L538.34 1075.86L538.58 1073.87L538.82 1071.87L539.06 1069.87L539.3 1067.88L539.54 1065.88L539.78 1063.88L540.02 1061.89L540.26 1059.89L540.5 1057.89L540.74 1055.89L540.97 1053.9L541.21 1051.9L541.44 1049.9L541.67 1047.9L541.9 1045.91L542.13 1043.91L542.36 1041.91L542.59 1039.91L542.82 1037.91L543.04 1035.92L543.27 1033.92L543.49 1031.92L543.71 1029.92L543.94 1027.92L544.16 1025.93L544.37 1023.93L544.59 1021.93L544.8 1019.93L545.02 1017.94L545.23 1015.94L545.44 1013.94L545.65 1011.95L545.86 1009.95L546.06 1007.95L546.27 1005.96L546.47 1003.96L546.67 1001.97L546.87 999.97L547.07 997.97L547.26 995.98L547.46 993.98L547.65 991.99L547.84 989.99L548.03 988L548.21 986.01L548.39 984.01L548.58 982.02L548.76 980.03L548.93 978.04L549.11 976.04L549.28 974.05L549.45 972.06L549.62 970.07L549.79 968.08L549.95 966.09L550.11 964.1L550.27 962.11L550.43 960.12L550.59 958.14L550.74 956.15L550.9 954.16L551.05 952.18L551.2 950.19L551.35 948.21L551.5 946.22L551.65 944.24L551.8 942.26L551.95 940.27L552.1 938.29L552.25 936.31L552.41 934.32L552.56 932.34L552.71 930.37L552.88 928.4L553.05 926.42L553.23 924.44L553.41 922.46L553.59 920.48L553.77 918.49L553.95 916.51L554.14 914.53L554.33 912.55L554.52 910.57L554.72 908.59L554.91 906.61L555.12 904.63L555.32 902.64L555.54 900.66L555.75 898.68L555.97 896.7L556.2 894.71L556.42 892.73L556.66 890.75L556.9 888.76L557.14 886.78L557.39 884.79L557.65 882.81L557.91 880.82L558.18 878.83L558.46 876.84L558.74 874.86L559.03 872.87L559.33 870.88L559.63 868.89L559.94 866.9L560.26 864.9L560.58 862.91L560.92 860.92L561.26 858.92L561.61 856.93L561.97 854.93L562.34 852.93L562.72 850.93L563.1 848.93L563.5 846.93L563.9 844.93L564.32 842.93L564.74 840.92L565.18 838.92L565.62 836.91L566.09 834.87L566.53 832.81L566.97 830.79L567.42 828.77L567.9 826.76L568.39 824.78L568.92 822.81L569.47 820.86L570.05 818.94L570.67 817.05L571.32 815.2L572.02 813.37L572.76 811.59L573.55 809.84L574.39 808.13L575.31 806.48L576.34 804.91L577.42 803.39L578.54 801.92L579.71 800.51L580.93 799.16L582.18 797.86L583.51 796.59L584.77 795.38L586.04 794.28L587.35 793.26L588.69 792.3L590.06 791.41L591.47 790.59L592.91 789.84L594.39 789.17L595.9 788.57L597.44 788.04L599.03 787.58L600.66 787.19L602.33 786.87L603.99 786.6L605.85 786.44L607.79 786.37L609.75 786.42L611.73 786.53L613.73 786.69L615.75 786.89L617.77 787.13L619.81 787.41L621.85 787.73L623.9 788.07L625.94 788.44L627.99 788.84L630.02 789.25L632.05 789.68L634.07 790.13L636.08 790.6L638.09 791.08L640.1 791.57L642.09 792.08L644.07 792.59L646.04 793.13L648.01 793.68L649.97 794.24L651.93 794.82L653.88 795.41L655.82 796.01L657.76 796.63L659.7 797.25L661.63 797.89L663.55 798.54L665.47 799.2L667.39 799.86L669.3 800.54L671.21 801.23L673.12 801.92L675.02 802.62L676.92 803.33L678.82 804.04L680.71 804.77L682.61 805.49L684.5 806.22L686.39 806.96L688.28 807.7L690.17 808.44L692.06 809.19L693.95 809.94L695.84 810.69L697.73 811.44L699.61 812.2L701.47 812.94L703.32 813.69L705.18 814.44L707.03 815.19L708.88 815.94L710.73 816.69L712.57 817.45L714.42 818.21L716.27 818.97L718.11 819.73L719.96 820.5L721.8 821.26L723.64 822.03L725.49 822.8L727.33 823.58L729.17 824.35L731.01 825.13L732.85 825.91L734.68 826.69L736.52 827.48L738.36 828.27L740.19 829.05L742.03 829.84L743.86 830.64L745.69 831.43L747.53 832.23L749.36 833.02L751.19 833.82L753.02 834.62L754.85 835.43L756.68 836.23L758.5 837.04L760.33 837.85L762.16 838.66L763.98 839.47L765.81 840.29L767.63 841.1L769.46 841.92L771.28 842.74L773.1 843.56L774.92 844.39L776.74 845.21L778.56 846.04L780.38 846.87L782.2 847.7L784.02 848.53L785.84 849.36L787.65 850.19L789.47 851.03L791.28 851.87L793.1 852.71L794.91 853.55L796.73 854.39L798.54 855.23L800.35 856.08L802.17 856.93L803.98 857.78L805.79 858.62L807.6 859.48L809.41 860.33L811.22 861.18L813.03 862.04L814.83 862.89L816.64 863.75L818.45 864.61L820.25 865.47L822.06 866.33L823.87 867.2L825.67 868.06L827.48 868.93L829.28 869.79L831.08 870.66L832.89 871.53L834.69 872.4L836.49 873.27L838.29 874.14L840.09 875.02L841.9 875.89L843.7 876.77L845.5 877.65L847.3 878.52L849.1 879.4L850.89 880.28L852.69 881.16L854.49 882.05L856.29 882.93L858.09 883.81L859.88 884.7L861.68 885.58L863.48 886.47L865.27 887.36L867.07 888.25L868.86 889.14L870.66 890.03L872.45 890.92L874.25 891.81L876.04 892.7L877.83 893.6L879.63 894.49L881.42 895.39L883.21 896.28L885.01 897.18L886.8 898.08L888.59 898.98L890.38 899.88L892.17 900.78L893.96 901.68L895.76 902.58L897.55 903.48L899.34 904.38L901.13 905.28L902.92 906.19L904.71 907.09L906.5 907.99L908.29 908.9L910.08 909.8L911.87 910.71L913.66 911.62L915.44 912.52L917.23 913.43L919.02 914.34L920.81 915.25L922.6 916.15L924.39 917.06L926.18 917.97L927.96 918.88L929.75 919.79L931.54 920.7L933.33 921.61L935.11 922.52L936.9 923.43L938.69 924.35L940.48 925.26L942.26 926.17L944.05 927.08L945.84 927.99L947.62 928.91L949.41 929.82L951.19 930.74L952.97 931.65L954.76 932.57L956.54 933.49L958.32 934.41L960.1 935.33L961.88 936.25L963.65 937.18L965.43 938.1L967.2 939.03L968.97 939.96L970.75 940.89L972.51 941.83L974.28 942.77L976.05 943.7L977.81 944.65L979.57 945.59L981.33 946.54L983.09 947.49L984.85 948.44L986.6 949.4L988.35 950.36L990.1 951.33L991.84 952.29L993.59 953.27L995.33 954.24L997.06 955.22L998.8 956.2L1000.53 957.19L1002.26 958.18L1003.99 959.18L1005.71 960.18L1007.43 961.18L1009.14 962.19L1010.86 963.2L1012.57 964.22L1014.27 965.25L1015.97 966.28L1017.67 967.31L1019.37 968.35L1021.06 969.4L1022.75 970.45L1024.43 971.5L1026.11 972.57L1027.78 973.64L1029.45 974.71L1031.12 975.79L1032.78 976.88L1034.44 977.97L1036.09 979.07L1037.74 980.18L1039.39 981.29L1041.03 982.42L1042.66 983.54L1044.29 984.68L1045.92 985.82L1047.54 986.97L1049.15 988.13L1050.76 989.29L1052.36 990.46L1053.96 991.64L1055.56 992.83L1057.14 994.03L1058.73 995.23L1060.3 996.44L1061.87 997.66L1063.44 998.89L1065 1000.13L1066.55 1001.38L1068.1 1002.63L1069.65 1003.9L1071.19 1005.17L1072.72 1006.44L1074.25 1007.73L1075.78 1009.02L1077.3 1010.32L1078.81 1011.63L1080.33 1012.94L1081.83 1014.26L1083.34 1015.59L1084.84 1016.92L1086.33 1018.26L1087.82 1019.6L1089.31 1020.94L1090.79 1022.29L1092.28 1023.65L1093.75 1025.01L1095.23 1026.37L1096.7 1027.74L1098.17 1029.11L1099.63 1030.48L1101.09 1031.86L1102.55 1033.24L1104.01 1034.62L1105.46 1036L1106.92 1037.39L1108.36 1038.77L1109.81 1040.16L1111.26 1041.55L1112.7 1042.94L1114.14 1044.33L1115.58 1045.72L1117.02 1047.11L1118.46 1048.5L1119.89 1049.89L1121.32 1051.28L1122.76 1052.67L1124.19 1054.06L1125.62 1055.44L1127.05 1056.83L1128.48 1058.21L1129.72 1059.09L1130.14 1060.46L1130.65 1062.2L1131.06 1064L1131.4 1065.86L1131.68 1067.78L1131.92 1069.75L1132.15 1071.75L1132.38 1073.78L1132.63 1075.8L1132.88 1077.82L1133.15 1079.82L1133.42 1081.82L1133.71 1083.81L1134 1085.8L1134.29 1087.78L1134.59 1089.75L1134.9 1091.72L1135.21 1093.69L1135.52 1095.65L1135.83 1097.61L1136.14 1099.57L1136.45 1101.53L1136.77 1103.49L1137.08 1105.45L1137.38 1107.41L1137.68 1109.37L1137.98 1111.33L1138.27 1113.3L1138.56 1115.26L1138.84 1117.24L1139.11 1119.22L1139.37 1121.2L1139.62 1123.19L1139.86 1125.19L1140.08 1127.2L1140.3 1129.21L1140.51 1131.24L1140.71 1133.29L1140.92 1135.34L1141.15 1137.41L1141.39 1139.47L1141.67 1141.53L1141.98 1143.58L1142.34 1145.62L1142.76 1147.64L1143.25 1149.64L1143.81 1151.62L1144.46 1153.56L1145.2 1155.46L1146.05 1157.31L1147.07 1159.13L1148.22 1161.28L1150.65 1163.11L1153.52 1163.26L1153.97 1158.51L1152.38 1158.25L1151.91 1157.89L1151.05 1156.89L1150.39 1155.31L1149.74 1153.66L1149.16 1151.95L1148.65 1150.2L1148.19 1148.4L1147.78 1146.56L1147.42 1144.68L1147.1 1142.76L1146.82 1140.8L1146.56 1138.82L1146.33 1136.82L1146.11 1134.8L1145.91 1132.76L1145.7 1130.72L1145.49 1128.67L1145.27 1126.62L1145.03 1124.58L1144.79 1122.55L1144.53 1120.53L1144.26 1118.52L1143.99 1116.52L1143.7 1114.53L1143.41 1112.54L1143.11 1110.56L1142.81 1108.58L1142.51 1106.61L1142.2 1104.64L1141.89 1102.68L1141.57 1100.72L1141.26 1098.76L1140.95 1096.8L1140.64 1094.84L1140.33 1092.88L1140.02 1090.93L1139.72 1088.97L1139.43 1087.01L1139.14 1085.04L1138.85 1083.08L1138.58 1081.11L1138.31 1079.13L1138.05 1077.15L1137.8 1075.16L1137.56 1073.17L1137.33 1071.16L1137.1 1069.12L1136.83 1067.05L1136.49 1064.97L1136.06 1062.88L1135.49 1060.8L1134.75 1058.74L1133.63 1056.42L1132.02 1054.55L1130.59 1053.17L1129.16 1051.79L1127.73 1050.4L1126.3 1049.01L1124.87 1047.63L1123.43 1046.24L1122 1044.84L1120.56 1043.45L1119.12 1042.06L1117.68 1040.67L1116.24 1039.27L1114.79 1037.88L1113.34 1036.49L1111.89 1035.09L1110.44 1033.7L1108.98 1032.31L1107.53 1030.92L1106.06 1029.53L1104.6 1028.14L1103.13 1026.76L1101.66 1025.38L1100.19 1024L1098.71 1022.62L1097.23 1021.25L1095.74 1019.88L1094.25 1018.51L1092.76 1017.15L1091.26 1015.79L1089.76 1014.43L1088.26 1013.08L1086.75 1011.74L1085.23 1010.4L1083.71 1009.06L1082.19 1007.74L1080.66 1006.41L1079.13 1005.1L1077.59 1003.79L1076.04 1002.48L1074.49 1001.19L1072.94 999.9L1071.38 998.62L1069.81 997.34L1068.24 996.08L1066.66 994.82L1065.08 993.57L1063.49 992.33L1061.89 991.1L1060.29 989.88L1058.68 988.66L1057.07 987.46L1055.45 986.26L1053.83 985.07L1052.2 983.89L1050.57 982.72L1048.93 981.55L1047.29 980.39L1045.64 979.24L1043.99 978.1L1042.33 976.97L1040.67 975.84L1039.01 974.72L1037.34 973.61L1035.66 972.5L1033.98 971.4L1032.3 970.31L1030.61 969.22L1028.92 968.14L1027.23 967.07L1025.53 966L1023.83 964.94L1022.12 963.88L1020.41 962.83L1018.7 961.79L1016.98 960.75L1015.26 959.72L1013.54 958.69L1011.81 957.67L1010.08 956.65L1008.35 955.64L1006.62 954.63L1004.88 953.63L1003.14 952.63L1001.39 951.64L999.65 950.65L997.9 949.66L996.15 948.68L994.39 947.71L992.64 946.73L990.88 945.76L989.12 944.8L987.36 943.84L985.59 942.88L983.83 941.92L982.06 940.97L980.29 940.02L978.52 939.07L976.74 938.13L974.97 937.19L973.19 936.25L971.42 935.32L969.64 934.38L967.86 933.45L966.08 932.52L964.29 931.6L962.51 930.67L960.73 929.75L958.94 928.83L957.16 927.91L955.37 926.99L953.59 926.07L951.8 925.16L950.01 924.24L948.22 923.33L946.44 922.41L944.65 921.5L942.86 920.59L941.07 919.67L939.28 918.76L937.49 917.85L935.71 916.94L933.92 916.03L932.13 915.12L930.34 914.21L928.55 913.3L926.76 912.39L924.97 911.48L923.18 910.57L921.39 909.66L919.6 908.75L917.81 907.85L916.02 906.94L914.23 906.03L912.44 905.13L910.65 904.22L908.86 903.32L907.07 902.41L905.28 901.51L903.49 900.6L901.7 899.7L899.9 898.8L898.11 897.89L896.32 896.99L894.53 896.09L892.73 895.19L890.94 894.29L889.15 893.39L887.35 892.49L885.56 891.6L883.76 890.7L881.97 889.8L880.17 888.91L878.38 888.01L876.58 887.12L874.78 886.23L872.99 885.33L871.19 884.44L869.39 883.55L867.59 882.66L865.8 881.77L864 880.89L862.2 880L860.4 879.11L858.6 878.23L856.8 877.34L855 876.46L853.2 875.58L851.4 874.7L849.59 873.82L847.79 872.94L845.99 872.06L844.18 871.18L842.38 870.31L840.58 869.43L838.77 868.56L836.97 867.69L835.16 866.81L833.35 865.94L831.55 865.07L829.74 864.21L827.93 863.34L826.12 862.47L824.32 861.61L822.51 860.75L820.7 859.88L818.89 859.02L817.07 858.17L815.26 857.31L813.45 856.45L811.64 855.6L809.82 854.74L808.01 853.89L806.2 853.04L804.38 852.19L802.57 851.34L800.75 850.49L798.93 849.65L797.11 848.81L795.3 847.96L793.48 847.12L791.66 846.28L789.84 845.45L788.02 844.61L786.19 843.77L784.37 842.94L782.55 842.11L780.72 841.28L778.9 840.45L777.07 839.63L775.25 838.8L773.42 837.98L771.59 837.16L769.77 836.34L767.94 835.52L766.11 834.7L764.28 833.89L762.45 833.08L760.61 832.27L758.78 831.46L756.95 830.65L755.11 829.85L753.28 829.04L751.44 828.24L749.61 827.44L747.77 826.64L745.93 825.85L744.09 825.05L742.25 824.26L740.41 823.47L738.57 822.69L736.73 821.9L734.88 821.12L733.04 820.33L731.19 819.56L729.35 818.78L727.5 818L725.65 817.23L723.8 816.46L721.95 815.69L720.1 814.92L718.25 814.16L716.4 813.39L714.55 812.63L712.69 811.88L710.84 811.12L708.98 810.37L707.12 809.62L705.26 808.87L703.41 808.12L701.55 807.38L699.66 806.62L697.76 805.86L695.87 805.11L693.97 804.36L692.08 803.61L690.18 802.87L688.28 802.12L686.38 801.39L684.47 800.65L682.56 799.92L680.65 799.2L678.73 798.48L676.81 797.77L674.89 797.06L672.96 796.36L671.03 795.68L669.09 794.99L667.15 794.32L665.2 793.66L663.25 793.01L661.29 792.37L659.32 791.74L657.35 791.12L655.37 790.52L653.38 789.92L651.39 789.35L649.39 788.78L647.38 788.23L645.36 787.7L643.33 787.18L641.3 786.68L639.26 786.19L637.22 785.71L635.16 785.24L633.09 784.8L631.02 784.37L628.93 783.97L626.83 783.58L624.71 783.22L622.6 782.89L620.47 782.6L618.34 782.34L616.22 782.13L614.09 781.97L611.98 781.86L609.87 781.81L607.77 781.81L605.69 781.81L603.57 781.86L601.62 782.04L599.73 782.32L597.86 782.69L596.01 783.14L594.18 783.7L592.4 784.36L590.65 785.12L588.95 785.98L587.31 786.94L585.72 787.99L584.18 789.12L582.7 790.34L581.28 791.63L579.95 792.95L578.57 794.33L577.21 795.82L575.92 797.37L574.69 798.98L573.52 800.65L572.42 802.37L571.38 804.14L570.34 805.93L569.35 807.74L568.42 809.61L567.55 811.51L566.75 813.44L566 815.41L565.3 817.4L564.66 819.41L564.05 821.44L563.48 823.48L562.95 825.54L562.45 827.6L561.97 829.67L561.51 831.74L561.09 833.77L560.63 835.78L560.17 837.81L559.73 839.84L559.29 841.87L558.87 843.89L558.45 845.92L558.05 847.94L557.65 849.96L557.27 851.98L556.89 854L556.52 856.02L556.17 858.03L555.82 860.05L555.48 862.06L555.14 864.07L554.82 866.08L554.5 868.09L554.19 870.1L553.89 872.11L553.6 874.11L553.31 876.12L553.03 878.12L552.76 880.13L552.49 882.13L552.23 884.13L551.98 886.13L551.73 888.13L551.48 890.12L551.25 892.12L551.01 894.12L550.79 896.11L550.56 898.11L550.35 900.1L550.13 902.09L549.92 904.09L549.72 906.08L549.52 908.07L549.32 910.06L549.13 912.05L548.93 914.04L548.75 916.03L548.56 918.01L548.38 920L548.2 921.99L548.02 923.98L547.85 925.96L547.67 927.95L547.5 929.94L547.34 931.94L547.19 933.92L547.04 935.91L546.88 937.89L546.73 939.88L546.58 941.86L546.43 943.84L546.28 945.83L546.13 947.81L545.98 949.79L545.83 951.78L545.68 953.76L545.52 955.74L545.37 957.73L545.21 959.71L545.06 961.69L544.9 963.68L544.74 965.66L544.57 967.65L544.41 969.63L544.24 971.62L544.07 973.6L543.9 975.59L543.72 977.57L543.55 979.56L543.37 981.55L543.19 983.54L543.01 985.53L542.82 987.51L542.63 989.5L542.45 991.49L542.25 993.48L542.06 995.47L541.87 997.46L541.67 999.45L541.47 1001.45L541.27 1003.44L541.07 1005.43L540.87 1007.42L540.66 1009.41L540.46 1011.41L540.25 1013.4L540.04 1015.39L539.83 1017.38L539.61 1019.38L539.4 1021.37L539.18 1023.37L538.97 1025.36L538.75 1027.35L538.53 1029.35L538.31 1031.34L538.08 1033.34L537.86 1035.33L537.64 1037.33L537.41 1039.32L537.18 1041.32L536.95 1043.31L536.72 1045.31L536.49 1047.3L536.26 1049.3L536.03 1051.29L535.79 1053.29L535.56 1055.28L535.32 1057.28L535.08 1059.27L534.85 1061.27L534.61 1063.26L534.37 1065.26L534.13 1067.25L533.89 1069.25L533.65 1071.24L533.4 1073.24L533.16 1075.23L532.92 1077.23L532.67 1079.22L532.43 1081.21L532.18 1083.21L531.94 1085.2L531.69 1087.2L531.45 1089.19L531.2 1091.18L530.95 1093.17L530.7 1095.17L530.46 1097.16L530.21 1099.15L529.96 1101.14L529.71 1103.13L529.46 1105.13L529.21 1107.12L528.97 1109.11L528.72 1111.1L528.47 1113.09L528.22 1115.08L527.97 1117.07L527.72 1119.05L527.47 1121.04L527.22 1123.03L526.97 1125.02L526.72 1127.01L526.48 1128.99L526.23 1130.98L525.98 1132.96L525.73 1134.95L525.48 1136.93L525.24 1138.92L524.99 1140.9L524.74 1142.88L524.5 1144.87L524.25 1146.85L524.01 1148.83L523.76 1150.81L523.52 1152.79L523.28 1154.77L523.04 1156.75L522.79 1158.73L522.55 1160.71L522.31 1162.68ZM527.71 1161.5L522.46 1161.5L525.08 1166.05ZM1156.43 1158.74L1151.18 1158.74L1153.8 1163.29Z" fill="#ff00ff" fill-rule="nonzero"/>
</g>
<g class="tk" text-anchor="end">
<text transform="translate(512.8 1170.8) scale(1 1.05)">0</text>
<text transform="translate(512.8 1072.53) scale(1 1.05)">100</text>
<text transform="translate(512.8 974.25) scale(1 1.05)">200</text>
<text transform="translate(512.8 875.98) scale(1 1.05)">300</text>
<text transform="translate(512.8 777.71) scale(1 1.05)">400</text>
<text transform="translate(512.8 679.44) scale(1 1.05)">500</text>
</g>
<g class="tk" text-anchor="middle">
<text transform="translate(524.6 1192.3) scale(1 1.05)">0</text>
<text transform="translate(615.15 1192.3) scale(1 1.05)">10</text>
<text transform="translate(705.7 1192.3) scale(1 1.05)">20</text>
<text transform="translate(796.25 1192.3) scale(1 1.05)">30</text>
<text transform="translate(886.8 1192.3) scale(1 1.05)">40</text>
<text transform="translate(977.35 1192.3) scale(1 1.05)">50</text>
<text transform="translate(1067.9 1192.3) scale(1 1.05)">60</text>
<text transform="translate(1158.45 1192.3) scale(1 1.05)">70</text>
<text transform="translate(1249 1192.3) scale(1 1.05)">80</text>
</g>
<text class="ti" text-anchor="middle" transform="translate(454 917) rotate(-90)">Stress(MPa)</text>
<text class="ti" text-anchor="middle" x="887" y="1244">Strain(%)</text>
<text class="pl" x="528.4" y="657.9">(c)</text>
<g id="legend-c">
<rect x="889.5" y="697.5" width="293" height="146" fill="#ffffff" stroke="#3a3a3a" stroke-width="1"/>
<line x1="905" y1="722.8" x2="967" y2="722.8" stroke="#000000" stroke-width="1"/>
<rect x="933.7" y="720.8" width="4" height="4" fill="#000000"/>
<text class="lg" font-size="28" x="974" y="732.4">Casted T43</text>
<line x1="905" y1="757.7" x2="967" y2="757.7" stroke="#ff0000" stroke-width="1"/>
<circle cx="935.7" cy="757.7" r="2.15" fill="#ff0000"/>
<text class="lg" font-size="28" x="974" y="767.3">Forged T43</text>
<line x1="905" y1="792.6" x2="967" y2="792.6" stroke="#0000ff" stroke-width="1.1"/>
<path d="M932.55 794.82 L938.85 794.82 L935.7 789.36 Z" fill="#0000ff"/>
<text class="lg" font-size="28" x="974" y="802.2">Casted T43-0.6B</text>
<line x1="905" y1="827.5" x2="967" y2="827.5" stroke="#ff00ff" stroke-width="1.3"/>
<path d="M932.55 825.28 L938.85 825.28 L935.7 830.74 Z" fill="#ff00ff"/>
<text class="lg" font-size="28" x="974" y="837.1">Forged T43-0.6B</text>
</g>
</g>
</svg>
</body></html>
